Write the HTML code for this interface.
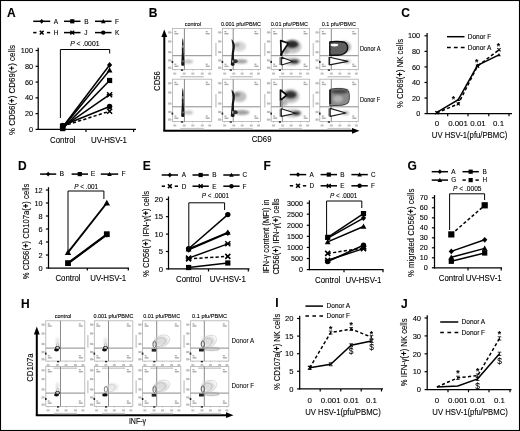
<!DOCTYPE html><html><head><meta charset="utf-8"><style>html,body{margin:0;padding:0;background:#fff;}svg{display:block;filter:blur(0.3px);}text{font-family:"Liberation Sans", sans-serif;stroke:#000;stroke-width:0.1px;}</style></head><body><svg width="520" height="431" viewBox="0 0 520 431"><defs><filter id="bl" x="-50%" y="-50%" width="200%" height="200%"><feGaussianBlur stdDeviation="0.6"/></filter><filter id="bl2" x="-50%" y="-50%" width="200%" height="200%"><feGaussianBlur stdDeviation="1.2"/></filter></defs><rect width="520" height="431" fill="#fff"/><rect x="0.5" y="0.5" width="519" height="430" fill="none" stroke="#000" stroke-width="1.1"/><text x="7" y="16.8" font-size="12" font-weight="bold" fill="#000">A</text><line x1="33.2" y1="21.3" x2="50.2" y2="21.3" stroke="#000" stroke-width="1.5"/><polygon points="41.7,18.9 43.86,21.3 41.7,23.7 39.54,21.3" fill="#000"/><text x="53.7" y="23.6" font-size="6.5" fill="#000">A</text><line x1="64" y1="21.3" x2="80.5" y2="21.3" stroke="#000" stroke-width="1.5"/><rect x="70.15" y="19.2" width="4.2" height="4.2" fill="#000"/><text x="84.3" y="23.6" font-size="6.5" fill="#000">B</text><line x1="95" y1="21.3" x2="111.5" y2="21.3" stroke="#000" stroke-width="1.5"/><polygon points="103.25,19 105.55,23.14 100.95,23.14" fill="#000"/><text x="115" y="23.6" font-size="6.5" fill="#000">F</text><line x1="33.2" y1="32.6" x2="36.5" y2="32.6" stroke="#000" stroke-width="1.5"/><line x1="46.9" y1="32.6" x2="50.2" y2="32.6" stroke="#000" stroke-width="1.5"/><path d="M39.8,30.7L43.6,34.5M43.6,30.7L39.8,34.5" stroke="#000" stroke-width="1.6" fill="none"/><text x="53.7" y="34.9" font-size="6.5" fill="#000">H</text><line x1="64" y1="32.6" x2="80.5" y2="32.6" stroke="#000" stroke-width="1.5"/><path d="M70.35,30.7L74.15,34.5M74.15,30.7L70.35,34.5M69.95,32.6L74.55,32.6" stroke="#000" stroke-width="1.4" fill="none"/><text x="84.3" y="34.9" font-size="6.5" fill="#000">J</text><line x1="95" y1="32.6" x2="111.5" y2="32.6" stroke="#000" stroke-width="1.5"/><circle cx="103.25" cy="32.6" r="2.2" fill="#000"/><text x="115" y="34.9" font-size="6.5" fill="#000">K</text><line x1="38.2" y1="129.9" x2="38.2" y2="47.7" stroke="#000" stroke-width="1.25"/><line x1="35.6" y1="50.5" x2="38.2" y2="50.5" stroke="#000" stroke-width="1.2"/><text x="33" y="53.13" font-size="7.3" text-anchor="end" fill="#000">100</text><line x1="35.6" y1="66.28" x2="38.2" y2="66.28" stroke="#000" stroke-width="1.2"/><text x="33" y="68.91" font-size="7.3" text-anchor="end" fill="#000">80</text><line x1="35.6" y1="82.06" x2="38.2" y2="82.06" stroke="#000" stroke-width="1.2"/><text x="33" y="84.69" font-size="7.3" text-anchor="end" fill="#000">60</text><line x1="35.6" y1="97.84" x2="38.2" y2="97.84" stroke="#000" stroke-width="1.2"/><text x="33" y="100.47" font-size="7.3" text-anchor="end" fill="#000">40</text><line x1="35.6" y1="113.62" x2="38.2" y2="113.62" stroke="#000" stroke-width="1.2"/><text x="33" y="116.25" font-size="7.3" text-anchor="end" fill="#000">20</text><line x1="35.6" y1="129.4" x2="38.2" y2="129.4" stroke="#000" stroke-width="1.2"/><text x="33" y="132.03" font-size="7.3" text-anchor="end" fill="#000">0</text><line x1="37.6" y1="129.4" x2="136" y2="129.4" stroke="#000" stroke-width="1.25"/><line x1="86" y1="129.4" x2="86" y2="132" stroke="#000" stroke-width="1.2"/><line x1="133.6" y1="129.4" x2="133.6" y2="132" stroke="#000" stroke-width="1.2"/><text transform="translate(15.1,90.1) rotate(-90)" font-size="8.5" text-anchor="middle" textLength="90" lengthAdjust="spacingAndGlyphs">% CD56(<tspan font-weight="bold">+</tspan>)  CD69(<tspan font-weight="bold">+</tspan>) cells</text><text x="62.7" y="142.6" font-size="8.2" text-anchor="middle" textLength="25.2" lengthAdjust="spacingAndGlyphs" fill="#000">Control</text><text x="109" y="142.6" font-size="8.2" text-anchor="middle" textLength="36" lengthAdjust="spacingAndGlyphs" fill="#000">UV-HSV-1</text><path d="M60.4,118 V49.5 H109.7 V53.5" fill="none" stroke="#000" stroke-width="1"/><text x="84.8" y="46" font-size="6.8" text-anchor="middle"><tspan font-style="italic">P</tspan> &lt; .0001</text><polyline points="62.7,127.03 109.6,65.02" fill="none" stroke="#000" stroke-width="1.5"/><polyline points="62.7,127.82 109.6,70.22" fill="none" stroke="#000" stroke-width="1.5"/><polyline points="62.7,128.61 109.6,80.48" fill="none" stroke="#000" stroke-width="1.5"/><polyline points="62.7,127.03 109.6,94.68" fill="none" stroke="#000" stroke-width="1.5"/><polyline points="62.7,125.46 109.6,106.52" fill="none" stroke="#000" stroke-width="1.5"/><polyline points="62.7,126.24 109.6,111.25" fill="none" stroke="#000" stroke-width="1.5" stroke-dasharray="3.2,2.2"/><polygon points="62.7,124.13 65.31,127.03 62.7,129.93 60.09,127.03" fill="#000"/><polygon points="109.6,62.12 112.21,65.02 109.6,67.92 106.99,65.02" fill="#000"/><polygon points="62.7,124.92 65.6,130.14 59.8,130.14" fill="#000"/><polygon points="109.6,67.32 112.5,72.54 106.7,72.54" fill="#000"/><rect x="60.1" y="126.01" width="5.2" height="5.2" fill="#000"/><rect x="107" y="77.88" width="5.2" height="5.2" fill="#000"/><path d="M60.2,124.53L65.2,129.53M65.2,124.53L60.2,129.53M59.8,127.03L65.6,127.03" stroke="#000" stroke-width="1.4" fill="none"/><path d="M107.1,92.18L112.1,97.18M112.1,92.18L107.1,97.18M106.7,94.68L112.5,94.68" stroke="#000" stroke-width="1.4" fill="none"/><circle cx="62.7" cy="125.46" r="2.7" fill="#000"/><circle cx="109.6" cy="106.52" r="2.7" fill="#000"/><path d="M60.2,123.74L65.2,128.74M65.2,123.74L60.2,128.74" stroke="#000" stroke-width="1.6" fill="none"/><path d="M107.1,108.75L112.1,113.75M112.1,108.75L107.1,113.75" stroke="#000" stroke-width="1.6" fill="none"/><text x="401.3" y="16.8" font-size="12" font-weight="bold" fill="#000">C</text><line x1="427.1" y1="114.1" x2="427.1" y2="33" stroke="#000" stroke-width="1.25"/><line x1="424.5" y1="35.8" x2="427.1" y2="35.8" stroke="#000" stroke-width="1.2"/><text x="420.2" y="38.43" font-size="7.3" text-anchor="end" fill="#000">100</text><line x1="424.5" y1="51.36" x2="427.1" y2="51.36" stroke="#000" stroke-width="1.2"/><text x="420.2" y="53.99" font-size="7.3" text-anchor="end" fill="#000">80</text><line x1="424.5" y1="66.92" x2="427.1" y2="66.92" stroke="#000" stroke-width="1.2"/><text x="420.2" y="69.55" font-size="7.3" text-anchor="end" fill="#000">60</text><line x1="424.5" y1="82.48" x2="427.1" y2="82.48" stroke="#000" stroke-width="1.2"/><text x="420.2" y="85.11" font-size="7.3" text-anchor="end" fill="#000">40</text><line x1="424.5" y1="98.04" x2="427.1" y2="98.04" stroke="#000" stroke-width="1.2"/><text x="420.2" y="100.67" font-size="7.3" text-anchor="end" fill="#000">20</text><line x1="424.5" y1="113.6" x2="427.1" y2="113.6" stroke="#000" stroke-width="1.2"/><text x="420.2" y="116.23" font-size="7.3" text-anchor="end" fill="#000">0</text><line x1="426.5" y1="113.6" x2="512" y2="113.6" stroke="#000" stroke-width="1.25"/><line x1="447.7" y1="113.6" x2="447.7" y2="116.2" stroke="#000" stroke-width="1.2"/><line x1="468" y1="113.6" x2="468" y2="116.2" stroke="#000" stroke-width="1.2"/><line x1="488.8" y1="113.6" x2="488.8" y2="116.2" stroke="#000" stroke-width="1.2"/><line x1="509" y1="113.6" x2="509" y2="116.2" stroke="#000" stroke-width="1.2"/><text transform="translate(402.8,73.5) rotate(-90)" font-size="8.5" text-anchor="middle" textLength="69.2" lengthAdjust="spacingAndGlyphs">% CD69(<tspan font-weight="bold">+</tspan>) NK cells</text><text x="436.9" y="125.8" font-size="7.9" text-anchor="middle" fill="#000">0</text><text x="458" y="125.8" font-size="7.9" text-anchor="middle" fill="#000">0.001</text><text x="478" y="125.8" font-size="7.9" text-anchor="middle" fill="#000">0.01</text><text x="498.6" y="125.8" font-size="7.9" text-anchor="middle" fill="#000">0.1</text><text x="469.6" y="138.2" font-size="8.6" text-anchor="middle" textLength="75.5" lengthAdjust="spacingAndGlyphs" fill="#000">UV HSV-1(pfu/PBMC)</text><line x1="447" y1="36.7" x2="464.5" y2="36.7" stroke="#000" stroke-width="1.5"/><line x1="447" y1="47.4" x2="464.6" y2="47.4" stroke="#000" stroke-width="1.5" stroke-dasharray="3.8,3.1"/><text x="467.8" y="39" font-size="6.5" fill="#000">Donor F</text><text x="467.8" y="49.7" font-size="6.5" fill="#000">Donor A</text><polyline points="436.9,112.43 458.3,99.6 477.5,65.36 499,54.86" fill="none" stroke="#000" stroke-width="1.5"/><polyline points="436.9,112.82 458.3,103.88 477.5,66.14 499,49.8" fill="none" stroke="#000" stroke-width="1.5" stroke-dasharray="3.2,2.3"/><polygon points="436.9,110.63 438.7,113.87 435.1,113.87" fill="#000"/><polygon points="458.3,97.8 460.1,101.04 456.5,101.04" fill="#000"/><polygon points="477.5,63.56 479.3,66.8 475.7,66.8" fill="#000"/><polygon points="499,53.06 500.8,56.3 497.2,56.3" fill="#000"/><path d="M435.3,111.22L438.5,114.42M438.5,111.22L435.3,114.42" stroke="#000" stroke-width="1.1" fill="none"/><path d="M456.7,102.28L459.9,105.47M459.9,102.28L456.7,105.47" stroke="#000" stroke-width="1.1" fill="none"/><path d="M475.9,64.54L479.1,67.74M479.1,64.54L475.9,67.74" stroke="#000" stroke-width="1.1" fill="none"/><path d="M497.4,48.2L500.6,51.4M500.6,48.2L497.4,51.4" stroke="#000" stroke-width="1.1" fill="none"/><text x="453.5" y="101.6" font-size="8.5" text-anchor="middle" font-weight="bold" fill="#000">*</text><text x="476.7" y="64.6" font-size="8.5" text-anchor="middle" font-weight="bold" fill="#000">*</text><text x="498.5" y="49.1" font-size="8.5" text-anchor="middle" font-weight="bold" fill="#000">*</text><text x="18" y="169.8" font-size="12" font-weight="bold" fill="#000">D</text><line x1="40.1" y1="174.1" x2="56.2" y2="174.1" stroke="#000" stroke-width="1.5"/><polygon points="48.15,171.7 50.31,174.1 48.15,176.5 45.99,174.1" fill="#000"/><text x="59.6" y="176.4" font-size="6.8" fill="#000">B</text><line x1="71.6" y1="174.1" x2="88" y2="174.1" stroke="#000" stroke-width="1.5"/><rect x="77.7" y="172" width="4.2" height="4.2" fill="#000"/><text x="90.8" y="176.4" font-size="6.8" fill="#000">E</text><line x1="100.8" y1="174.1" x2="118.2" y2="174.1" stroke="#000" stroke-width="1.5"/><polygon points="109.5,171.8 111.8,175.94 107.2,175.94" fill="#000"/><text x="121.6" y="176.4" font-size="6.8" fill="#000">F</text><line x1="48.5" y1="268.5" x2="48.5" y2="187.2" stroke="#000" stroke-width="1.25"/><line x1="45.9" y1="190" x2="48.5" y2="190" stroke="#000" stroke-width="1.2"/><text x="42.7" y="192.66" font-size="7.4" text-anchor="end" fill="#000">12</text><line x1="45.9" y1="203" x2="48.5" y2="203" stroke="#000" stroke-width="1.2"/><text x="42.7" y="205.66" font-size="7.4" text-anchor="end" fill="#000">10</text><line x1="45.9" y1="216" x2="48.5" y2="216" stroke="#000" stroke-width="1.2"/><text x="42.7" y="218.66" font-size="7.4" text-anchor="end" fill="#000">8</text><line x1="45.9" y1="229" x2="48.5" y2="229" stroke="#000" stroke-width="1.2"/><text x="42.7" y="231.66" font-size="7.4" text-anchor="end" fill="#000">6</text><line x1="45.9" y1="242" x2="48.5" y2="242" stroke="#000" stroke-width="1.2"/><text x="42.7" y="244.66" font-size="7.4" text-anchor="end" fill="#000">4</text><line x1="45.9" y1="255" x2="48.5" y2="255" stroke="#000" stroke-width="1.2"/><text x="42.7" y="257.66" font-size="7.4" text-anchor="end" fill="#000">2</text><line x1="45.9" y1="268" x2="48.5" y2="268" stroke="#000" stroke-width="1.2"/><text x="42.7" y="270.66" font-size="7.4" text-anchor="end" fill="#000">0</text><line x1="47.9" y1="268" x2="129" y2="268" stroke="#000" stroke-width="1.25"/><line x1="87.3" y1="268" x2="87.3" y2="270.6" stroke="#000" stroke-width="1.2"/><line x1="128.3" y1="268" x2="128.3" y2="270.6" stroke="#000" stroke-width="1.2"/><text transform="translate(28.6,231.4) rotate(-90)" font-size="8.4" text-anchor="middle" textLength="95.6" lengthAdjust="spacingAndGlyphs">% CD56(<tspan font-weight="bold">+</tspan>) CD107a(<tspan font-weight="bold">+</tspan>) cells</text><text x="68" y="280.6" font-size="8.2" text-anchor="middle" textLength="25.2" lengthAdjust="spacingAndGlyphs" fill="#000">Control</text><text x="108.2" y="280.6" font-size="8.2" text-anchor="middle" textLength="36" lengthAdjust="spacingAndGlyphs" fill="#000">UV-HSV-1</text><path d="M68,250 V191 H103.9 V199" fill="none" stroke="#000" stroke-width="1"/><text x="86.2" y="188.6" font-size="6.4" text-anchor="middle"><tspan font-style="italic">P</tspan> &lt; .001</text><polyline points="68,263.45 106.8,234.85" fill="none" stroke="#000" stroke-width="1.9"/><polyline points="68,263.12 106.8,234.2" fill="none" stroke="#000" stroke-width="1.9"/><polyline points="68,252.4 106.8,203" fill="none" stroke="#000" stroke-width="1.9"/><polygon points="68,260.85 70.34,263.45 68,266.05 65.66,263.45" fill="#000"/><polygon points="106.8,232.25 109.14,234.85 106.8,237.45 104.46,234.85" fill="#000"/><rect x="65.1" y="260.23" width="5.8" height="5.8" fill="#000"/><rect x="103.9" y="231.3" width="5.8" height="5.8" fill="#000"/><polygon points="68,249.2 71.2,254.96 64.8,254.96" fill="#000"/><polygon points="106.8,199.8 110,205.56 103.6,205.56" fill="#000"/><text x="142.8" y="169.8" font-size="12" font-weight="bold" fill="#000">E</text><line x1="161.7" y1="175" x2="178" y2="175" stroke="#000" stroke-width="1.5"/><polygon points="169.85,172.6 172.01,175 169.85,177.4 167.69,175" fill="#000"/><text x="181.8" y="177.3" font-size="6.4" fill="#000">A</text><line x1="192.5" y1="175" x2="208.8" y2="175" stroke="#000" stroke-width="1.5"/><rect x="198.55" y="172.9" width="4.2" height="4.2" fill="#000"/><text x="212.2" y="177.3" font-size="6.4" fill="#000">B</text><line x1="223.3" y1="175" x2="239.6" y2="175" stroke="#000" stroke-width="1.5"/><polygon points="231.45,172.7 233.75,176.84 229.15,176.84" fill="#000"/><text x="242.5" y="177.3" font-size="6.4" fill="#000">C</text><line x1="161.7" y1="186.2" x2="165" y2="186.2" stroke="#000" stroke-width="1.5"/><line x1="174.7" y1="186.2" x2="178" y2="186.2" stroke="#000" stroke-width="1.5"/><path d="M167.95,184.3L171.75,188.1M171.75,184.3L167.95,188.1" stroke="#000" stroke-width="1.6" fill="none"/><text x="181.8" y="188.5" font-size="6.4" fill="#000">D</text><line x1="192.5" y1="186.2" x2="208.8" y2="186.2" stroke="#000" stroke-width="1.5"/><path d="M198.75,184.3L202.55,188.1M202.55,184.3L198.75,188.1M198.35,186.2L202.95,186.2" stroke="#000" stroke-width="1.4" fill="none"/><text x="212.2" y="188.5" font-size="6.4" fill="#000">E</text><line x1="223.3" y1="186.2" x2="239.6" y2="186.2" stroke="#000" stroke-width="1.5"/><circle cx="231.45" cy="186.2" r="2.2" fill="#000"/><text x="242.5" y="188.5" font-size="6.4" fill="#000">F</text><line x1="168.5" y1="269.4" x2="168.5" y2="196.5" stroke="#000" stroke-width="1.25"/><line x1="165.9" y1="199.3" x2="168.5" y2="199.3" stroke="#000" stroke-width="1.2"/><text x="163.1" y="202.07" font-size="7.7" text-anchor="end" fill="#000">20</text><line x1="165.9" y1="216.7" x2="168.5" y2="216.7" stroke="#000" stroke-width="1.2"/><text x="163.1" y="219.47" font-size="7.7" text-anchor="end" fill="#000">15</text><line x1="165.9" y1="234.1" x2="168.5" y2="234.1" stroke="#000" stroke-width="1.2"/><text x="163.1" y="236.87" font-size="7.7" text-anchor="end" fill="#000">10</text><line x1="165.9" y1="251.5" x2="168.5" y2="251.5" stroke="#000" stroke-width="1.2"/><text x="163.1" y="254.27" font-size="7.7" text-anchor="end" fill="#000">5</text><line x1="165.9" y1="268.9" x2="168.5" y2="268.9" stroke="#000" stroke-width="1.2"/><text x="163.1" y="271.67" font-size="7.7" text-anchor="end" fill="#000">0</text><line x1="167.9" y1="268.9" x2="249.5" y2="268.9" stroke="#000" stroke-width="1.25"/><line x1="208.5" y1="268.9" x2="208.5" y2="271.5" stroke="#000" stroke-width="1.2"/><line x1="248.3" y1="268.9" x2="248.3" y2="271.5" stroke="#000" stroke-width="1.2"/><text transform="translate(148.7,234) rotate(-90)" font-size="8.4" text-anchor="middle" textLength="86" lengthAdjust="spacingAndGlyphs">% CD56(<tspan font-weight="bold">+</tspan>) IFN-&#947;(<tspan font-weight="bold">+</tspan>) cells</text><text x="188.6" y="282.2" font-size="8.2" text-anchor="middle" textLength="25.2" lengthAdjust="spacingAndGlyphs" fill="#000">Control</text><text x="227.8" y="282.2" font-size="8.2" text-anchor="middle" textLength="36" lengthAdjust="spacingAndGlyphs" fill="#000">UV-HSV-1</text><path d="M188.8,246 V202.8 H224.6 V210" fill="none" stroke="#000" stroke-width="1"/><text x="215.4" y="198.1" font-size="6.7" text-anchor="middle" textLength="27.2" lengthAdjust="spacingAndGlyphs"><tspan font-style="italic">P</tspan> &lt; .0001</text><polyline points="188.6,249.76 227.8,233.06" fill="none" stroke="#000" stroke-width="1.5"/><polyline points="188.6,249.06 227.8,232.36" fill="none" stroke="#000" stroke-width="1.5"/><polyline points="188.6,248.72 227.8,214.61" fill="none" stroke="#000" stroke-width="1.5"/><polyline points="188.6,258.11 227.8,243.84" fill="none" stroke="#000" stroke-width="1.5"/><polyline points="188.6,258.81 227.8,256.37" fill="none" stroke="#000" stroke-width="1.5" stroke-dasharray="3.2,2.2"/><polyline points="188.6,267.51 227.8,262.98" fill="none" stroke="#000" stroke-width="1.5"/><polygon points="188.6,246.86 191.21,249.76 188.6,252.66 185.99,249.76" fill="#000"/><polygon points="227.8,230.16 230.41,233.06 227.8,235.96 225.19,233.06" fill="#000"/><polygon points="188.6,246.16 191.5,251.38 185.7,251.38" fill="#000"/><polygon points="227.8,229.46 230.7,234.68 224.9,234.68" fill="#000"/><circle cx="188.6" cy="248.72" r="2.7" fill="#000"/><circle cx="227.8" cy="214.61" r="2.7" fill="#000"/><path d="M186.1,255.61L191.1,260.61M191.1,255.61L186.1,260.61M185.7,258.11L191.5,258.11" stroke="#000" stroke-width="1.4" fill="none"/><path d="M225.3,241.34L230.3,246.34M230.3,241.34L225.3,246.34M224.9,243.84L230.7,243.84" stroke="#000" stroke-width="1.4" fill="none"/><path d="M186.1,256.31L191.1,261.31M191.1,256.31L186.1,261.31" stroke="#000" stroke-width="1.6" fill="none"/><path d="M225.3,253.87L230.3,258.87M230.3,253.87L225.3,258.87" stroke="#000" stroke-width="1.6" fill="none"/><rect x="186" y="264.91" width="5.2" height="5.2" fill="#000"/><rect x="225.2" y="260.38" width="5.2" height="5.2" fill="#000"/><text x="263.6" y="170.4" font-size="12" font-weight="bold" fill="#000">F</text><line x1="289.8" y1="174.6" x2="306.2" y2="174.6" stroke="#000" stroke-width="1.5"/><polygon points="298,172.2 300.16,174.6 298,177 295.84,174.6" fill="#000"/><text x="309.5" y="176.9" font-size="6.4" fill="#000">A</text><line x1="320.6" y1="174.6" x2="337" y2="174.6" stroke="#000" stroke-width="1.5"/><rect x="326.7" y="172.5" width="4.2" height="4.2" fill="#000"/><text x="340.3" y="176.9" font-size="6.4" fill="#000">B</text><line x1="351.4" y1="174.6" x2="367.8" y2="174.6" stroke="#000" stroke-width="1.5"/><polygon points="359.6,172.3 361.9,176.44 357.3,176.44" fill="#000"/><text x="371.1" y="176.9" font-size="6.4" fill="#000">C</text><line x1="289.8" y1="185.8" x2="293.1" y2="185.8" stroke="#000" stroke-width="1.5"/><line x1="302.9" y1="185.8" x2="306.2" y2="185.8" stroke="#000" stroke-width="1.5"/><path d="M296.1,183.9L299.9,187.7M299.9,183.9L296.1,187.7" stroke="#000" stroke-width="1.6" fill="none"/><text x="309.5" y="188.1" font-size="6.4" fill="#000">D</text><line x1="320.6" y1="185.8" x2="337" y2="185.8" stroke="#000" stroke-width="1.5"/><path d="M326.9,183.9L330.7,187.7M330.7,183.9L326.9,187.7M326.5,185.8L331.1,185.8" stroke="#000" stroke-width="1.4" fill="none"/><text x="340.3" y="188.1" font-size="6.4" fill="#000">E</text><line x1="351.4" y1="185.8" x2="367.8" y2="185.8" stroke="#000" stroke-width="1.5"/><circle cx="359.6" cy="185.8" r="2.2" fill="#000"/><text x="371.1" y="188.1" font-size="6.4" fill="#000">F</text><line x1="309.4" y1="270.1" x2="309.4" y2="200.32" stroke="#000" stroke-width="1.25"/><line x1="306.8" y1="203.12" x2="309.4" y2="203.12" stroke="#000" stroke-width="1.2"/><text x="302.9" y="205.68" font-size="7.1" text-anchor="end" fill="#000">3000</text><line x1="306.8" y1="214.2" x2="309.4" y2="214.2" stroke="#000" stroke-width="1.2"/><text x="302.9" y="216.76" font-size="7.1" text-anchor="end" fill="#000">2500</text><line x1="306.8" y1="225.28" x2="309.4" y2="225.28" stroke="#000" stroke-width="1.2"/><text x="302.9" y="227.84" font-size="7.1" text-anchor="end" fill="#000">2000</text><line x1="306.8" y1="236.36" x2="309.4" y2="236.36" stroke="#000" stroke-width="1.2"/><text x="302.9" y="238.92" font-size="7.1" text-anchor="end" fill="#000">1500</text><line x1="306.8" y1="247.44" x2="309.4" y2="247.44" stroke="#000" stroke-width="1.2"/><text x="302.9" y="250" font-size="7.1" text-anchor="end" fill="#000">1000</text><line x1="306.8" y1="258.52" x2="309.4" y2="258.52" stroke="#000" stroke-width="1.2"/><text x="302.9" y="261.08" font-size="7.1" text-anchor="end" fill="#000">500</text><line x1="306.8" y1="269.6" x2="309.4" y2="269.6" stroke="#000" stroke-width="1.2"/><text x="302.9" y="272.16" font-size="7.1" text-anchor="end" fill="#000">0</text><line x1="308.8" y1="269.6" x2="383.5" y2="269.6" stroke="#000" stroke-width="1.25"/><line x1="344" y1="269.6" x2="344" y2="272.2" stroke="#000" stroke-width="1.2"/><line x1="383" y1="269.6" x2="383" y2="272.2" stroke="#000" stroke-width="1.2"/><text transform="translate(268.8,236.4) rotate(-90)" font-size="8.2" text-anchor="middle" textLength="73.8" lengthAdjust="spacingAndGlyphs">IFN-&#947; content (MFI) in</text><text transform="translate(279.2,236.5) rotate(-90)" font-size="8.2" text-anchor="middle" textLength="76.2" lengthAdjust="spacingAndGlyphs">CD56(<tspan font-weight="bold">+</tspan>) IFN-&#947;(<tspan font-weight="bold">+</tspan>) cells</text><text x="327.7" y="283.2" font-size="8.2" text-anchor="middle" textLength="25.2" lengthAdjust="spacingAndGlyphs" fill="#000">Control</text><text x="363.5" y="283.2" font-size="8.2" text-anchor="middle" textLength="36" lengthAdjust="spacingAndGlyphs" fill="#000">UV-HSV-1</text><path d="M326.6,235 V201 H361.8 V208" fill="none" stroke="#000" stroke-width="1"/><text x="343.6" y="198.2" font-size="6.7" text-anchor="middle" textLength="27.4" lengthAdjust="spacingAndGlyphs"><tspan font-style="italic">P</tspan> &lt; .0001</text><polyline points="327.7,238.13 363.5,218.08" fill="none" stroke="#000" stroke-width="1.5"/><polyline points="327.7,237.36 363.5,213.6" fill="none" stroke="#000" stroke-width="1.5"/><polyline points="327.7,241.9 363.5,226.5" fill="none" stroke="#000" stroke-width="1.5"/><polyline points="327.7,261.51 363.5,245.22" fill="none" stroke="#000" stroke-width="1.5"/><polyline points="327.7,260.29 363.5,248.66" fill="none" stroke="#000" stroke-width="1.5"/><polyline points="327.7,253.42 363.5,248.1" fill="none" stroke="#000" stroke-width="1.5" stroke-dasharray="3.2,2.2"/><polygon points="327.7,235.23 330.31,238.13 327.7,241.03 325.09,238.13" fill="#000"/><polygon points="363.5,215.18 366.11,218.08 363.5,220.98 360.89,218.08" fill="#000"/><rect x="325.1" y="234.76" width="5.2" height="5.2" fill="#000"/><rect x="360.9" y="211" width="5.2" height="5.2" fill="#000"/><polygon points="327.7,239 330.6,244.22 324.8,244.22" fill="#000"/><polygon points="363.5,223.6 366.4,228.82 360.6,228.82" fill="#000"/><circle cx="327.7" cy="261.51" r="2.7" fill="#000"/><circle cx="363.5" cy="245.22" r="2.7" fill="#000"/><path d="M325.2,257.79L330.2,262.79M330.2,257.79L325.2,262.79M324.8,260.29L330.6,260.29" stroke="#000" stroke-width="1.4" fill="none"/><path d="M361,246.16L366,251.16M366,246.16L361,251.16M360.6,248.66L366.4,248.66" stroke="#000" stroke-width="1.4" fill="none"/><path d="M325.2,250.92L330.2,255.92M330.2,250.92L325.2,255.92" stroke="#000" stroke-width="1.6" fill="none"/><path d="M361,245.6L366,250.6M366,245.6L361,250.6" stroke="#000" stroke-width="1.6" fill="none"/><text x="407.6" y="170" font-size="12" font-weight="bold" fill="#000">G</text><line x1="431.7" y1="171.7" x2="448" y2="171.7" stroke="#000" stroke-width="1.5"/><polygon points="439.85,169.3 442.01,171.7 439.85,174.1 437.69,171.7" fill="#000"/><text x="451.3" y="174" font-size="6.4" fill="#000">A</text><line x1="462.5" y1="171.7" x2="478.8" y2="171.7" stroke="#000" stroke-width="1.5"/><rect x="468.55" y="169.6" width="4.2" height="4.2" fill="#000"/><text x="482.6" y="174" font-size="6.4" fill="#000">B</text><line x1="431.7" y1="180.1" x2="448" y2="180.1" stroke="#000" stroke-width="1.5"/><polygon points="439.85,177.8 442.15,181.94 437.55,181.94" fill="#000"/><text x="451.3" y="182.4" font-size="6.4" fill="#000">G</text><line x1="462.5" y1="180.1" x2="465.8" y2="180.1" stroke="#000" stroke-width="1.5"/><line x1="475.5" y1="180.1" x2="478.8" y2="180.1" stroke="#000" stroke-width="1.5"/><rect x="468.55" y="178" width="4.2" height="4.2" fill="#000"/><text x="482.6" y="182.4" font-size="6.4" fill="#000">H</text><line x1="434.5" y1="268.3" x2="434.5" y2="195" stroke="#000" stroke-width="1.25"/><line x1="431.9" y1="197.8" x2="434.5" y2="197.8" stroke="#000" stroke-width="1.2"/><text x="427.9" y="200.43" font-size="7.3" text-anchor="end" fill="#000">70</text><line x1="431.9" y1="207.8" x2="434.5" y2="207.8" stroke="#000" stroke-width="1.2"/><text x="427.9" y="210.43" font-size="7.3" text-anchor="end" fill="#000">60</text><line x1="431.9" y1="217.8" x2="434.5" y2="217.8" stroke="#000" stroke-width="1.2"/><text x="427.9" y="220.43" font-size="7.3" text-anchor="end" fill="#000">50</text><line x1="431.9" y1="227.8" x2="434.5" y2="227.8" stroke="#000" stroke-width="1.2"/><text x="427.9" y="230.43" font-size="7.3" text-anchor="end" fill="#000">40</text><line x1="431.9" y1="237.8" x2="434.5" y2="237.8" stroke="#000" stroke-width="1.2"/><text x="427.9" y="240.43" font-size="7.3" text-anchor="end" fill="#000">30</text><line x1="431.9" y1="247.8" x2="434.5" y2="247.8" stroke="#000" stroke-width="1.2"/><text x="427.9" y="250.43" font-size="7.3" text-anchor="end" fill="#000">20</text><line x1="431.9" y1="257.8" x2="434.5" y2="257.8" stroke="#000" stroke-width="1.2"/><text x="427.9" y="260.43" font-size="7.3" text-anchor="end" fill="#000">10</text><line x1="431.9" y1="267.8" x2="434.5" y2="267.8" stroke="#000" stroke-width="1.2"/><text x="427.9" y="270.43" font-size="7.3" text-anchor="end" fill="#000">0</text><line x1="433.9" y1="267.8" x2="502" y2="267.8" stroke="#000" stroke-width="1.25"/><line x1="468" y1="267.8" x2="468" y2="270.4" stroke="#000" stroke-width="1.2"/><line x1="501.2" y1="267.8" x2="501.2" y2="270.4" stroke="#000" stroke-width="1.2"/><text transform="translate(414,232.9) rotate(-90)" font-size="8.4" text-anchor="middle" textLength="88.4" lengthAdjust="spacingAndGlyphs">% migrated CD56(<tspan font-weight="bold">+</tspan>) cells</text><text x="451.4" y="281.3" font-size="8.2" text-anchor="middle" textLength="25.2" lengthAdjust="spacingAndGlyphs" fill="#000">Control</text><text x="483.7" y="281.3" font-size="8.2" text-anchor="middle" textLength="36" lengthAdjust="spacingAndGlyphs" fill="#000">UV-HSV-1</text><path d="M449.6,230 V193.8 H484.6 V200" fill="none" stroke="#000" stroke-width="1"/><text x="467.3" y="190.6" font-size="6.6" text-anchor="middle"><tspan font-style="italic">P</tspan> &lt; .0005</text><polyline points="451.3,234.4 484.7,205.3" fill="none" stroke="#000" stroke-width="1.5" stroke-dasharray="3.2,2.2"/><polyline points="451.3,251.4 484.7,239.8" fill="none" stroke="#000" stroke-width="1.5"/><polyline points="451.3,257.3 484.7,248.4" fill="none" stroke="#000" stroke-width="1.5"/><polyline points="451.3,261.3 484.7,253" fill="none" stroke="#000" stroke-width="1.5"/><rect x="448.2" y="231.3" width="6.2" height="6.2" fill="#000"/><rect x="481.6" y="202.2" width="6.2" height="6.2" fill="#000"/><polygon points="451.3,248.5 453.91,251.4 451.3,254.3 448.69,251.4" fill="#000"/><polygon points="484.7,236.9 487.31,239.8 484.7,242.7 482.09,239.8" fill="#000"/><polygon points="451.3,254.4 454.2,259.62 448.4,259.62" fill="#000"/><polygon points="484.7,245.5 487.6,250.72 481.8,250.72" fill="#000"/><rect x="448.7" y="258.7" width="5.2" height="5.2" fill="#000"/><rect x="482.1" y="250.4" width="5.2" height="5.2" fill="#000"/><text x="275.2" y="307.4" font-size="12" font-weight="bold" fill="#000">I</text><line x1="299.7" y1="389.4" x2="299.7" y2="315.7" stroke="#000" stroke-width="1.25"/><line x1="297.1" y1="318.5" x2="299.7" y2="318.5" stroke="#000" stroke-width="1.2"/><text x="293.4" y="321.24" font-size="7.6" text-anchor="end" fill="#000">20</text><line x1="297.1" y1="336.1" x2="299.7" y2="336.1" stroke="#000" stroke-width="1.2"/><text x="293.4" y="338.84" font-size="7.6" text-anchor="end" fill="#000">15</text><line x1="297.1" y1="353.7" x2="299.7" y2="353.7" stroke="#000" stroke-width="1.2"/><text x="293.4" y="356.44" font-size="7.6" text-anchor="end" fill="#000">10</text><line x1="297.1" y1="371.3" x2="299.7" y2="371.3" stroke="#000" stroke-width="1.2"/><text x="293.4" y="374.04" font-size="7.6" text-anchor="end" fill="#000">5</text><line x1="297.1" y1="388.9" x2="299.7" y2="388.9" stroke="#000" stroke-width="1.2"/><text x="293.4" y="391.64" font-size="7.6" text-anchor="end" fill="#000">0</text><line x1="299.1" y1="388.9" x2="383" y2="388.9" stroke="#000" stroke-width="1.25"/><line x1="320.2" y1="388.9" x2="320.2" y2="391.5" stroke="#000" stroke-width="1.2"/><line x1="340.8" y1="388.9" x2="340.8" y2="391.5" stroke="#000" stroke-width="1.2"/><line x1="361.2" y1="388.9" x2="361.2" y2="391.5" stroke="#000" stroke-width="1.2"/><line x1="381.5" y1="388.9" x2="381.5" y2="391.5" stroke="#000" stroke-width="1.2"/><text transform="translate(280,351.9) rotate(-90)" font-size="8.4" text-anchor="middle" textLength="76.4" lengthAdjust="spacingAndGlyphs">% CD107a(<tspan font-weight="bold">+</tspan>) NK cells</text><text x="309.7" y="403.4" font-size="7.9" text-anchor="middle" fill="#000">0</text><text x="330.7" y="403.4" font-size="7.9" text-anchor="middle" fill="#000">0.001</text><text x="351.2" y="403.4" font-size="7.9" text-anchor="middle" fill="#000">0.01</text><text x="371.5" y="403.4" font-size="7.9" text-anchor="middle" fill="#000">0.1</text><text x="343" y="415.2" font-size="8.6" text-anchor="middle" textLength="75.5" lengthAdjust="spacingAndGlyphs" fill="#000">UV HSV-1(pfu/PBMC)</text><line x1="305.4" y1="306.1" x2="323" y2="306.1" stroke="#000" stroke-width="1.5"/><line x1="305.4" y1="316.1" x2="323" y2="316.1" stroke="#000" stroke-width="1.5" stroke-dasharray="3.6,3.4"/><text x="326.6" y="308.4" font-size="6.5" fill="#000">Donor A</text><text x="326.6" y="318.4" font-size="6.5" fill="#000">Donor F</text><polyline points="309.7,367.78 330.7,364.26 351.2,345.25 371.5,341.03" fill="none" stroke="#000" stroke-width="1.5"/><polyline points="309.7,367.78 330.7,332.58 351.2,329.06 371.5,337.16" fill="none" stroke="#000" stroke-width="1.5" stroke-dasharray="3.2,2.3"/><path d="M308.3,366.38L311.1,369.18M311.1,366.38L308.3,369.18" stroke="#000" stroke-width="1.0" fill="none"/><line x1="307.9" y1="366.28" x2="311.5" y2="366.28" stroke="#000" stroke-width="0.8"/><line x1="307.9" y1="369.28" x2="311.5" y2="369.28" stroke="#000" stroke-width="0.8"/><path d="M329.3,362.86L332.1,365.66M332.1,362.86L329.3,365.66" stroke="#000" stroke-width="1.0" fill="none"/><line x1="328.9" y1="362.76" x2="332.5" y2="362.76" stroke="#000" stroke-width="0.8"/><line x1="328.9" y1="365.76" x2="332.5" y2="365.76" stroke="#000" stroke-width="0.8"/><path d="M349.8,343.85L352.6,346.65M352.6,343.85L349.8,346.65" stroke="#000" stroke-width="1.0" fill="none"/><line x1="349.4" y1="343.75" x2="353" y2="343.75" stroke="#000" stroke-width="0.8"/><line x1="349.4" y1="346.75" x2="353" y2="346.75" stroke="#000" stroke-width="0.8"/><path d="M370.1,339.63L372.9,342.43M372.9,339.63L370.1,342.43" stroke="#000" stroke-width="1.0" fill="none"/><line x1="369.7" y1="339.53" x2="373.3" y2="339.53" stroke="#000" stroke-width="0.8"/><line x1="369.7" y1="342.53" x2="373.3" y2="342.53" stroke="#000" stroke-width="0.8"/><line x1="307.9" y1="366.28" x2="311.5" y2="366.28" stroke="#000" stroke-width="0.8"/><line x1="307.9" y1="369.28" x2="311.5" y2="369.28" stroke="#000" stroke-width="0.8"/><line x1="309.7" y1="366.28" x2="309.7" y2="369.28" stroke="#000" stroke-width="0.8"/><line x1="328.9" y1="331.08" x2="332.5" y2="331.08" stroke="#000" stroke-width="0.8"/><line x1="328.9" y1="334.08" x2="332.5" y2="334.08" stroke="#000" stroke-width="0.8"/><line x1="330.7" y1="331.08" x2="330.7" y2="334.08" stroke="#000" stroke-width="0.8"/><line x1="349.4" y1="327.56" x2="353" y2="327.56" stroke="#000" stroke-width="0.8"/><line x1="349.4" y1="330.56" x2="353" y2="330.56" stroke="#000" stroke-width="0.8"/><line x1="351.2" y1="327.56" x2="351.2" y2="330.56" stroke="#000" stroke-width="0.8"/><line x1="369.7" y1="335.66" x2="373.3" y2="335.66" stroke="#000" stroke-width="0.8"/><line x1="369.7" y1="338.66" x2="373.3" y2="338.66" stroke="#000" stroke-width="0.8"/><line x1="371.5" y1="335.66" x2="371.5" y2="338.66" stroke="#000" stroke-width="0.8"/><text x="330.7" y="331.5" font-size="8.5" text-anchor="middle" font-weight="bold" fill="#000">*</text><text x="351.2" y="328.1" font-size="8.5" text-anchor="middle" font-weight="bold" fill="#000">*</text><text x="371.5" y="336.5" font-size="8.5" text-anchor="middle" font-weight="bold" fill="#000">*</text><text x="351.2" y="354.1" font-size="8.4" text-anchor="middle" fill="#000">$</text><text x="371.5" y="349.9" font-size="8.4" text-anchor="middle" fill="#000">$</text><text x="401" y="308.2" font-size="12" font-weight="bold" fill="#000">J</text><line x1="427.2" y1="390.1" x2="427.2" y2="315.2" stroke="#000" stroke-width="1.25"/><line x1="424.6" y1="318" x2="427.2" y2="318" stroke="#000" stroke-width="1.2"/><text x="421.1" y="320.74" font-size="7.6" text-anchor="end" fill="#000">40</text><line x1="424.6" y1="335.9" x2="427.2" y2="335.9" stroke="#000" stroke-width="1.2"/><text x="421.1" y="338.64" font-size="7.6" text-anchor="end" fill="#000">30</text><line x1="424.6" y1="353.8" x2="427.2" y2="353.8" stroke="#000" stroke-width="1.2"/><text x="421.1" y="356.54" font-size="7.6" text-anchor="end" fill="#000">20</text><line x1="424.6" y1="371.7" x2="427.2" y2="371.7" stroke="#000" stroke-width="1.2"/><text x="421.1" y="374.44" font-size="7.6" text-anchor="end" fill="#000">10</text><line x1="424.6" y1="389.6" x2="427.2" y2="389.6" stroke="#000" stroke-width="1.2"/><text x="421.1" y="392.34" font-size="7.6" text-anchor="end" fill="#000">0</text><line x1="426.6" y1="389.6" x2="511.5" y2="389.6" stroke="#000" stroke-width="1.25"/><line x1="448" y1="389.6" x2="448" y2="392.2" stroke="#000" stroke-width="1.2"/><line x1="468.5" y1="389.6" x2="468.5" y2="392.2" stroke="#000" stroke-width="1.2"/><line x1="489" y1="389.6" x2="489" y2="392.2" stroke="#000" stroke-width="1.2"/><line x1="510" y1="389.6" x2="510" y2="392.2" stroke="#000" stroke-width="1.2"/><text transform="translate(407,352.3) rotate(-90)" font-size="8.4" text-anchor="middle" textLength="67.8" lengthAdjust="spacingAndGlyphs">% IFN-&#947;(<tspan font-weight="bold">+</tspan>) NK cells</text><text x="436.9" y="403.4" font-size="7.9" text-anchor="middle" fill="#000">0</text><text x="457.9" y="403.4" font-size="7.9" text-anchor="middle" fill="#000">0.001</text><text x="477.8" y="403.4" font-size="7.9" text-anchor="middle" fill="#000">0.01</text><text x="499.5" y="403.4" font-size="7.9" text-anchor="middle" fill="#000">0.1</text><text x="470.1" y="414.9" font-size="8.6" text-anchor="middle" textLength="75.5" lengthAdjust="spacingAndGlyphs" fill="#000">UV HSV-1(pfu/PBMC)</text><line x1="440.2" y1="322" x2="458.3" y2="322" stroke="#000" stroke-width="1.5"/><line x1="440.2" y1="332.4" x2="458.3" y2="332.4" stroke="#000" stroke-width="1.5" stroke-dasharray="3.7,3.5"/><text x="461.6" y="324.3" font-size="6.5" fill="#000">Donor A</text><text x="461.6" y="334.7" font-size="6.5" fill="#000">Donor F</text><polyline points="436.9,386.92 457.9,386.02 477.6,378.86 499.5,353.8" fill="none" stroke="#000" stroke-width="1.5"/><polyline points="436.9,386.92 457.9,377.79 477.6,375.64 499.5,338.41" fill="none" stroke="#000" stroke-width="1.5" stroke-dasharray="3.2,2.3"/><line x1="475.8" y1="377.26" x2="479.4" y2="377.26" stroke="#000" stroke-width="0.8"/><line x1="475.8" y1="380.46" x2="479.4" y2="380.46" stroke="#000" stroke-width="0.8"/><line x1="477.6" y1="377.26" x2="477.6" y2="380.46" stroke="#000" stroke-width="0.8"/><line x1="497.7" y1="352.2" x2="501.3" y2="352.2" stroke="#000" stroke-width="0.8"/><line x1="497.7" y1="355.4" x2="501.3" y2="355.4" stroke="#000" stroke-width="0.8"/><line x1="499.5" y1="352.2" x2="499.5" y2="355.4" stroke="#000" stroke-width="0.8"/><line x1="456.1" y1="376.19" x2="459.7" y2="376.19" stroke="#000" stroke-width="0.8"/><line x1="456.1" y1="379.39" x2="459.7" y2="379.39" stroke="#000" stroke-width="0.8"/><line x1="457.9" y1="376.19" x2="457.9" y2="379.39" stroke="#000" stroke-width="0.8"/><line x1="475.8" y1="374.04" x2="479.4" y2="374.04" stroke="#000" stroke-width="0.8"/><line x1="475.8" y1="377.24" x2="479.4" y2="377.24" stroke="#000" stroke-width="0.8"/><line x1="477.6" y1="374.04" x2="477.6" y2="377.24" stroke="#000" stroke-width="0.8"/><line x1="497.7" y1="336.81" x2="501.3" y2="336.81" stroke="#000" stroke-width="0.8"/><line x1="497.7" y1="340.01" x2="501.3" y2="340.01" stroke="#000" stroke-width="0.8"/><line x1="499.5" y1="336.81" x2="499.5" y2="340.01" stroke="#000" stroke-width="0.8"/><text x="457.9" y="376.4" font-size="8.5" text-anchor="middle" font-weight="bold" fill="#000">*</text><text x="477.6" y="373.6" font-size="8.5" text-anchor="middle" font-weight="bold" fill="#000">*</text><text x="499.5" y="336.5" font-size="8.5" text-anchor="middle" font-weight="bold" fill="#000">*</text><text x="477.6" y="388.7" font-size="8.4" text-anchor="middle" fill="#000">$</text><text x="499.5" y="364" font-size="8.4" text-anchor="middle" fill="#000">$</text><text x="148.8" y="16.7" font-size="12" font-weight="bold" fill="#000">B</text><path d="M164.3,130.8 V35.5" stroke="#000" stroke-width="2"/><polygon points="164.3,29.5 161.4,37 167.2,37" fill="#000"/><path d="M163.3,130.8 H353" stroke="#000" stroke-width="2"/><polygon points="359.5,130.8 352,127.9 352,133.7" fill="#000"/><text transform="translate(159.6,81.1) rotate(-90)" font-size="8.4" text-anchor="middle" textLength="19.6" lengthAdjust="spacingAndGlyphs">CD56</text><text x="251.7" y="141.8" font-size="8.8" textLength="19.8" lengthAdjust="spacingAndGlyphs" fill="#000">CD69</text><text x="192.9" y="25.9" font-size="6.2" text-anchor="middle" textLength="16.4" lengthAdjust="spacingAndGlyphs" fill="#000">control</text><text x="241" y="25.9" font-size="6.2" text-anchor="middle" textLength="40" lengthAdjust="spacingAndGlyphs" fill="#000">0.001 pfu/PBMC</text><text x="289.4" y="25.9" font-size="6.2" text-anchor="middle" textLength="37.2" lengthAdjust="spacingAndGlyphs" fill="#000">0.01 pfu/PBMC</text><text x="338.8" y="25.8" font-size="6.2" text-anchor="middle" textLength="34.3" lengthAdjust="spacingAndGlyphs" fill="#000">0.1 pfu/PBMC</text><text x="360" y="51.3" font-size="6.5" textLength="20.6" lengthAdjust="spacingAndGlyphs" fill="#000">Donor A</text><text x="360" y="102" font-size="6.5" textLength="20.2" lengthAdjust="spacingAndGlyphs" fill="#000">Donor F</text><rect x="172.4" y="28.5" width="39.3" height="41.1" fill="none" stroke="#b0b0b0" stroke-width="0.8"/><line x1="184.4" y1="28.5" x2="184.4" y2="69.6" stroke="#8a8a8a" stroke-width="1.0"/><line x1="172.4" y1="55.7" x2="211.7" y2="55.7" stroke="#8a8a8a" stroke-width="1.0"/><line x1="171.2" y1="32.61" x2="172.4" y2="32.61" stroke="#999" stroke-width="0.5"/><rect x="168.1" y="31.31" width="3" height="2.2" fill="#bdbdbd"/><line x1="171.2" y1="41.65" x2="172.4" y2="41.65" stroke="#999" stroke-width="0.5"/><rect x="168.1" y="40.35" width="3" height="2.2" fill="#bdbdbd"/><line x1="171.2" y1="52.34" x2="172.4" y2="52.34" stroke="#999" stroke-width="0.5"/><rect x="168.1" y="51.04" width="3" height="2.2" fill="#bdbdbd"/><line x1="171.2" y1="60.56" x2="172.4" y2="60.56" stroke="#999" stroke-width="0.5"/><rect x="168.1" y="59.26" width="3" height="2.2" fill="#bdbdbd"/><line x1="171.2" y1="67.96" x2="172.4" y2="67.96" stroke="#999" stroke-width="0.5"/><rect x="168.1" y="66.66" width="3" height="2.2" fill="#bdbdbd"/><line x1="174.76" y1="69.6" x2="174.76" y2="70.8" stroke="#999" stroke-width="0.5"/><rect x="173.26" y="72.6" width="3" height="2" fill="#c0c0c0"/><line x1="184.19" y1="69.6" x2="184.19" y2="70.8" stroke="#999" stroke-width="0.5"/><rect x="182.69" y="72.6" width="3" height="2" fill="#c0c0c0"/><line x1="192.84" y1="69.6" x2="192.84" y2="70.8" stroke="#999" stroke-width="0.5"/><rect x="191.34" y="72.6" width="3" height="2" fill="#c0c0c0"/><line x1="202.27" y1="69.6" x2="202.27" y2="70.8" stroke="#999" stroke-width="0.5"/><rect x="200.77" y="72.6" width="3" height="2" fill="#c0c0c0"/><line x1="209.73" y1="69.6" x2="209.73" y2="70.8" stroke="#999" stroke-width="0.5"/><rect x="208.23" y="72.6" width="3" height="2" fill="#c0c0c0"/><rect x="171.6" y="60.97" width="1.6" height="2" fill="#222"/><rect x="180.9" y="69.4" width="2.2" height="1.4" fill="#222"/><rect x="180.26" y="76" width="23.58" height="1.4" fill="#c8c8c8"/><rect x="174.4" y="31" width="2" height="1.3" fill="#aaa"/><rect x="174.4" y="33" width="4" height="1.4" fill="#aaa"/><rect x="205.7" y="31" width="2" height="1.3" fill="#aaa"/><rect x="205.7" y="33" width="4" height="1.4" fill="#aaa"/><rect x="174.4" y="63.6" width="2" height="1.3" fill="#aaa"/><rect x="174.4" y="65.6" width="4" height="1.4" fill="#aaa"/><rect x="205.7" y="63.6" width="2" height="1.3" fill="#aaa"/><rect x="205.7" y="65.6" width="4" height="1.4" fill="#aaa"/><rect x="222.4" y="28.5" width="38" height="41.1" fill="none" stroke="#b0b0b0" stroke-width="0.8"/><line x1="233.2" y1="28.5" x2="233.2" y2="69.6" stroke="#8a8a8a" stroke-width="1.0"/><line x1="222.4" y1="55.7" x2="260.4" y2="55.7" stroke="#8a8a8a" stroke-width="1.0"/><line x1="221.2" y1="32.61" x2="222.4" y2="32.61" stroke="#999" stroke-width="0.5"/><rect x="218.1" y="31.31" width="3" height="2.2" fill="#bdbdbd"/><line x1="221.2" y1="41.65" x2="222.4" y2="41.65" stroke="#999" stroke-width="0.5"/><rect x="218.1" y="40.35" width="3" height="2.2" fill="#bdbdbd"/><line x1="221.2" y1="52.34" x2="222.4" y2="52.34" stroke="#999" stroke-width="0.5"/><rect x="218.1" y="51.04" width="3" height="2.2" fill="#bdbdbd"/><line x1="221.2" y1="60.56" x2="222.4" y2="60.56" stroke="#999" stroke-width="0.5"/><rect x="218.1" y="59.26" width="3" height="2.2" fill="#bdbdbd"/><line x1="221.2" y1="67.96" x2="222.4" y2="67.96" stroke="#999" stroke-width="0.5"/><rect x="218.1" y="66.66" width="3" height="2.2" fill="#bdbdbd"/><line x1="224.68" y1="69.6" x2="224.68" y2="70.8" stroke="#999" stroke-width="0.5"/><rect x="223.18" y="72.6" width="3" height="2" fill="#c0c0c0"/><line x1="233.8" y1="69.6" x2="233.8" y2="70.8" stroke="#999" stroke-width="0.5"/><rect x="232.3" y="72.6" width="3" height="2" fill="#c0c0c0"/><line x1="242.16" y1="69.6" x2="242.16" y2="70.8" stroke="#999" stroke-width="0.5"/><rect x="240.66" y="72.6" width="3" height="2" fill="#c0c0c0"/><line x1="251.28" y1="69.6" x2="251.28" y2="70.8" stroke="#999" stroke-width="0.5"/><rect x="249.78" y="72.6" width="3" height="2" fill="#c0c0c0"/><line x1="258.5" y1="69.6" x2="258.5" y2="70.8" stroke="#999" stroke-width="0.5"/><rect x="257" y="72.6" width="3" height="2" fill="#c0c0c0"/><rect x="215.2" y="42.88" width="1.5" height="13.15" fill="#cdcdcd"/><rect x="221.6" y="60.97" width="1.6" height="2" fill="#222"/><rect x="229.7" y="69.4" width="2.2" height="1.4" fill="#222"/><rect x="230" y="76" width="22.8" height="1.4" fill="#c8c8c8"/><rect x="224.4" y="31" width="2" height="1.3" fill="#aaa"/><rect x="224.4" y="33" width="4" height="1.4" fill="#aaa"/><rect x="254.4" y="31" width="2" height="1.3" fill="#aaa"/><rect x="254.4" y="33" width="4" height="1.4" fill="#aaa"/><rect x="224.4" y="63.6" width="2" height="1.3" fill="#aaa"/><rect x="224.4" y="65.6" width="4" height="1.4" fill="#aaa"/><rect x="254.4" y="63.6" width="2" height="1.3" fill="#aaa"/><rect x="254.4" y="65.6" width="4" height="1.4" fill="#aaa"/><rect x="271.2" y="28.5" width="38.4" height="41.1" fill="none" stroke="#b0b0b0" stroke-width="0.8"/><line x1="282.3" y1="28.5" x2="282.3" y2="69.6" stroke="#8a8a8a" stroke-width="1.0"/><line x1="271.2" y1="55.7" x2="309.6" y2="55.7" stroke="#8a8a8a" stroke-width="1.0"/><line x1="270" y1="32.61" x2="271.2" y2="32.61" stroke="#999" stroke-width="0.5"/><rect x="266.9" y="31.31" width="3" height="2.2" fill="#bdbdbd"/><line x1="270" y1="41.65" x2="271.2" y2="41.65" stroke="#999" stroke-width="0.5"/><rect x="266.9" y="40.35" width="3" height="2.2" fill="#bdbdbd"/><line x1="270" y1="52.34" x2="271.2" y2="52.34" stroke="#999" stroke-width="0.5"/><rect x="266.9" y="51.04" width="3" height="2.2" fill="#bdbdbd"/><line x1="270" y1="60.56" x2="271.2" y2="60.56" stroke="#999" stroke-width="0.5"/><rect x="266.9" y="59.26" width="3" height="2.2" fill="#bdbdbd"/><line x1="270" y1="67.96" x2="271.2" y2="67.96" stroke="#999" stroke-width="0.5"/><rect x="266.9" y="66.66" width="3" height="2.2" fill="#bdbdbd"/><line x1="273.5" y1="69.6" x2="273.5" y2="70.8" stroke="#999" stroke-width="0.5"/><rect x="272" y="72.6" width="3" height="2" fill="#c0c0c0"/><line x1="282.72" y1="69.6" x2="282.72" y2="70.8" stroke="#999" stroke-width="0.5"/><rect x="281.22" y="72.6" width="3" height="2" fill="#c0c0c0"/><line x1="291.17" y1="69.6" x2="291.17" y2="70.8" stroke="#999" stroke-width="0.5"/><rect x="289.67" y="72.6" width="3" height="2" fill="#c0c0c0"/><line x1="300.38" y1="69.6" x2="300.38" y2="70.8" stroke="#999" stroke-width="0.5"/><rect x="298.88" y="72.6" width="3" height="2" fill="#c0c0c0"/><line x1="307.68" y1="69.6" x2="307.68" y2="70.8" stroke="#999" stroke-width="0.5"/><rect x="306.18" y="72.6" width="3" height="2" fill="#c0c0c0"/><rect x="264" y="42.88" width="1.5" height="13.15" fill="#cdcdcd"/><rect x="270.4" y="60.97" width="1.6" height="2" fill="#222"/><rect x="278.8" y="69.4" width="2.2" height="1.4" fill="#222"/><rect x="278.88" y="76" width="23.04" height="1.4" fill="#c8c8c8"/><rect x="273.2" y="31" width="2" height="1.3" fill="#aaa"/><rect x="273.2" y="33" width="4" height="1.4" fill="#aaa"/><rect x="303.6" y="31" width="2" height="1.3" fill="#aaa"/><rect x="303.6" y="33" width="4" height="1.4" fill="#aaa"/><rect x="273.2" y="63.6" width="2" height="1.3" fill="#aaa"/><rect x="273.2" y="65.6" width="4" height="1.4" fill="#aaa"/><rect x="303.6" y="63.6" width="2" height="1.3" fill="#aaa"/><rect x="303.6" y="65.6" width="4" height="1.4" fill="#aaa"/><rect x="319.8" y="28.5" width="38.5" height="41.1" fill="none" stroke="#b0b0b0" stroke-width="0.8"/><line x1="331.3" y1="28.5" x2="331.3" y2="69.6" stroke="#8a8a8a" stroke-width="1.0"/><line x1="319.8" y1="55.7" x2="358.3" y2="55.7" stroke="#8a8a8a" stroke-width="1.0"/><line x1="318.6" y1="32.61" x2="319.8" y2="32.61" stroke="#999" stroke-width="0.5"/><rect x="315.5" y="31.31" width="3" height="2.2" fill="#bdbdbd"/><line x1="318.6" y1="41.65" x2="319.8" y2="41.65" stroke="#999" stroke-width="0.5"/><rect x="315.5" y="40.35" width="3" height="2.2" fill="#bdbdbd"/><line x1="318.6" y1="52.34" x2="319.8" y2="52.34" stroke="#999" stroke-width="0.5"/><rect x="315.5" y="51.04" width="3" height="2.2" fill="#bdbdbd"/><line x1="318.6" y1="60.56" x2="319.8" y2="60.56" stroke="#999" stroke-width="0.5"/><rect x="315.5" y="59.26" width="3" height="2.2" fill="#bdbdbd"/><line x1="318.6" y1="67.96" x2="319.8" y2="67.96" stroke="#999" stroke-width="0.5"/><rect x="315.5" y="66.66" width="3" height="2.2" fill="#bdbdbd"/><line x1="322.11" y1="69.6" x2="322.11" y2="70.8" stroke="#999" stroke-width="0.5"/><rect x="320.61" y="72.6" width="3" height="2" fill="#c0c0c0"/><line x1="331.35" y1="69.6" x2="331.35" y2="70.8" stroke="#999" stroke-width="0.5"/><rect x="329.85" y="72.6" width="3" height="2" fill="#c0c0c0"/><line x1="339.82" y1="69.6" x2="339.82" y2="70.8" stroke="#999" stroke-width="0.5"/><rect x="338.32" y="72.6" width="3" height="2" fill="#c0c0c0"/><line x1="349.06" y1="69.6" x2="349.06" y2="70.8" stroke="#999" stroke-width="0.5"/><rect x="347.56" y="72.6" width="3" height="2" fill="#c0c0c0"/><line x1="356.38" y1="69.6" x2="356.38" y2="70.8" stroke="#999" stroke-width="0.5"/><rect x="354.88" y="72.6" width="3" height="2" fill="#c0c0c0"/><rect x="312.6" y="42.88" width="1.5" height="13.15" fill="#cdcdcd"/><rect x="319" y="60.97" width="1.6" height="2" fill="#222"/><rect x="327.8" y="69.4" width="2.2" height="1.4" fill="#222"/><rect x="327.5" y="76" width="23.1" height="1.4" fill="#c8c8c8"/><rect x="321.8" y="31" width="2" height="1.3" fill="#aaa"/><rect x="321.8" y="33" width="4" height="1.4" fill="#aaa"/><rect x="352.3" y="31" width="2" height="1.3" fill="#aaa"/><rect x="352.3" y="33" width="4" height="1.4" fill="#aaa"/><rect x="321.8" y="63.6" width="2" height="1.3" fill="#aaa"/><rect x="321.8" y="65.6" width="4" height="1.4" fill="#aaa"/><rect x="352.3" y="63.6" width="2" height="1.3" fill="#aaa"/><rect x="352.3" y="65.6" width="4" height="1.4" fill="#aaa"/><rect x="172.4" y="79.2" width="39.3" height="42.3" fill="none" stroke="#b0b0b0" stroke-width="0.8"/><line x1="184.4" y1="79.2" x2="184.4" y2="121.5" stroke="#8a8a8a" stroke-width="1.0"/><line x1="172.4" y1="106.8" x2="211.7" y2="106.8" stroke="#8a8a8a" stroke-width="1.0"/><line x1="171.2" y1="83.43" x2="172.4" y2="83.43" stroke="#999" stroke-width="0.5"/><rect x="168.1" y="82.13" width="3" height="2.2" fill="#bdbdbd"/><line x1="171.2" y1="92.74" x2="172.4" y2="92.74" stroke="#999" stroke-width="0.5"/><rect x="168.1" y="91.44" width="3" height="2.2" fill="#bdbdbd"/><line x1="171.2" y1="103.73" x2="172.4" y2="103.73" stroke="#999" stroke-width="0.5"/><rect x="168.1" y="102.43" width="3" height="2.2" fill="#bdbdbd"/><line x1="171.2" y1="112.19" x2="172.4" y2="112.19" stroke="#999" stroke-width="0.5"/><rect x="168.1" y="110.89" width="3" height="2.2" fill="#bdbdbd"/><line x1="171.2" y1="119.81" x2="172.4" y2="119.81" stroke="#999" stroke-width="0.5"/><rect x="168.1" y="118.51" width="3" height="2.2" fill="#bdbdbd"/><line x1="174.76" y1="121.5" x2="174.76" y2="122.7" stroke="#999" stroke-width="0.5"/><rect x="173.26" y="124.5" width="3" height="2" fill="#c0c0c0"/><line x1="184.19" y1="121.5" x2="184.19" y2="122.7" stroke="#999" stroke-width="0.5"/><rect x="182.69" y="124.5" width="3" height="2" fill="#c0c0c0"/><line x1="192.84" y1="121.5" x2="192.84" y2="122.7" stroke="#999" stroke-width="0.5"/><rect x="191.34" y="124.5" width="3" height="2" fill="#c0c0c0"/><line x1="202.27" y1="121.5" x2="202.27" y2="122.7" stroke="#999" stroke-width="0.5"/><rect x="200.77" y="124.5" width="3" height="2" fill="#c0c0c0"/><line x1="209.73" y1="121.5" x2="209.73" y2="122.7" stroke="#999" stroke-width="0.5"/><rect x="208.23" y="124.5" width="3" height="2" fill="#c0c0c0"/><rect x="171.6" y="112.62" width="1.6" height="2" fill="#222"/><rect x="180.9" y="121.3" width="2.2" height="1.4" fill="#222"/><rect x="180.26" y="127.9" width="23.58" height="1.4" fill="#c8c8c8"/><rect x="174.4" y="81.7" width="2" height="1.3" fill="#aaa"/><rect x="174.4" y="83.7" width="4" height="1.4" fill="#aaa"/><rect x="205.7" y="81.7" width="2" height="1.3" fill="#aaa"/><rect x="205.7" y="83.7" width="4" height="1.4" fill="#aaa"/><rect x="174.4" y="115.5" width="2" height="1.3" fill="#aaa"/><rect x="174.4" y="117.5" width="4" height="1.4" fill="#aaa"/><rect x="205.7" y="115.5" width="2" height="1.3" fill="#aaa"/><rect x="205.7" y="117.5" width="4" height="1.4" fill="#aaa"/><rect x="222.4" y="79.2" width="38" height="42.3" fill="none" stroke="#b0b0b0" stroke-width="0.8"/><line x1="233.2" y1="79.2" x2="233.2" y2="121.5" stroke="#8a8a8a" stroke-width="1.0"/><line x1="222.4" y1="106.8" x2="260.4" y2="106.8" stroke="#8a8a8a" stroke-width="1.0"/><line x1="221.2" y1="83.43" x2="222.4" y2="83.43" stroke="#999" stroke-width="0.5"/><rect x="218.1" y="82.13" width="3" height="2.2" fill="#bdbdbd"/><line x1="221.2" y1="92.74" x2="222.4" y2="92.74" stroke="#999" stroke-width="0.5"/><rect x="218.1" y="91.44" width="3" height="2.2" fill="#bdbdbd"/><line x1="221.2" y1="103.73" x2="222.4" y2="103.73" stroke="#999" stroke-width="0.5"/><rect x="218.1" y="102.43" width="3" height="2.2" fill="#bdbdbd"/><line x1="221.2" y1="112.19" x2="222.4" y2="112.19" stroke="#999" stroke-width="0.5"/><rect x="218.1" y="110.89" width="3" height="2.2" fill="#bdbdbd"/><line x1="221.2" y1="119.81" x2="222.4" y2="119.81" stroke="#999" stroke-width="0.5"/><rect x="218.1" y="118.51" width="3" height="2.2" fill="#bdbdbd"/><line x1="224.68" y1="121.5" x2="224.68" y2="122.7" stroke="#999" stroke-width="0.5"/><rect x="223.18" y="124.5" width="3" height="2" fill="#c0c0c0"/><line x1="233.8" y1="121.5" x2="233.8" y2="122.7" stroke="#999" stroke-width="0.5"/><rect x="232.3" y="124.5" width="3" height="2" fill="#c0c0c0"/><line x1="242.16" y1="121.5" x2="242.16" y2="122.7" stroke="#999" stroke-width="0.5"/><rect x="240.66" y="124.5" width="3" height="2" fill="#c0c0c0"/><line x1="251.28" y1="121.5" x2="251.28" y2="122.7" stroke="#999" stroke-width="0.5"/><rect x="249.78" y="124.5" width="3" height="2" fill="#c0c0c0"/><line x1="258.5" y1="121.5" x2="258.5" y2="122.7" stroke="#999" stroke-width="0.5"/><rect x="257" y="124.5" width="3" height="2" fill="#c0c0c0"/><rect x="215.2" y="94" width="1.5" height="13.54" fill="#cdcdcd"/><rect x="221.6" y="112.62" width="1.6" height="2" fill="#222"/><rect x="229.7" y="121.3" width="2.2" height="1.4" fill="#222"/><rect x="230" y="127.9" width="22.8" height="1.4" fill="#c8c8c8"/><rect x="224.4" y="81.7" width="2" height="1.3" fill="#aaa"/><rect x="224.4" y="83.7" width="4" height="1.4" fill="#aaa"/><rect x="254.4" y="81.7" width="2" height="1.3" fill="#aaa"/><rect x="254.4" y="83.7" width="4" height="1.4" fill="#aaa"/><rect x="224.4" y="115.5" width="2" height="1.3" fill="#aaa"/><rect x="224.4" y="117.5" width="4" height="1.4" fill="#aaa"/><rect x="254.4" y="115.5" width="2" height="1.3" fill="#aaa"/><rect x="254.4" y="117.5" width="4" height="1.4" fill="#aaa"/><rect x="271.2" y="79.2" width="38.4" height="42.3" fill="none" stroke="#b0b0b0" stroke-width="0.8"/><line x1="282.3" y1="79.2" x2="282.3" y2="121.5" stroke="#8a8a8a" stroke-width="1.0"/><line x1="271.2" y1="106.8" x2="309.6" y2="106.8" stroke="#8a8a8a" stroke-width="1.0"/><line x1="270" y1="83.43" x2="271.2" y2="83.43" stroke="#999" stroke-width="0.5"/><rect x="266.9" y="82.13" width="3" height="2.2" fill="#bdbdbd"/><line x1="270" y1="92.74" x2="271.2" y2="92.74" stroke="#999" stroke-width="0.5"/><rect x="266.9" y="91.44" width="3" height="2.2" fill="#bdbdbd"/><line x1="270" y1="103.73" x2="271.2" y2="103.73" stroke="#999" stroke-width="0.5"/><rect x="266.9" y="102.43" width="3" height="2.2" fill="#bdbdbd"/><line x1="270" y1="112.19" x2="271.2" y2="112.19" stroke="#999" stroke-width="0.5"/><rect x="266.9" y="110.89" width="3" height="2.2" fill="#bdbdbd"/><line x1="270" y1="119.81" x2="271.2" y2="119.81" stroke="#999" stroke-width="0.5"/><rect x="266.9" y="118.51" width="3" height="2.2" fill="#bdbdbd"/><line x1="273.5" y1="121.5" x2="273.5" y2="122.7" stroke="#999" stroke-width="0.5"/><rect x="272" y="124.5" width="3" height="2" fill="#c0c0c0"/><line x1="282.72" y1="121.5" x2="282.72" y2="122.7" stroke="#999" stroke-width="0.5"/><rect x="281.22" y="124.5" width="3" height="2" fill="#c0c0c0"/><line x1="291.17" y1="121.5" x2="291.17" y2="122.7" stroke="#999" stroke-width="0.5"/><rect x="289.67" y="124.5" width="3" height="2" fill="#c0c0c0"/><line x1="300.38" y1="121.5" x2="300.38" y2="122.7" stroke="#999" stroke-width="0.5"/><rect x="298.88" y="124.5" width="3" height="2" fill="#c0c0c0"/><line x1="307.68" y1="121.5" x2="307.68" y2="122.7" stroke="#999" stroke-width="0.5"/><rect x="306.18" y="124.5" width="3" height="2" fill="#c0c0c0"/><rect x="264" y="94" width="1.5" height="13.54" fill="#cdcdcd"/><rect x="270.4" y="112.62" width="1.6" height="2" fill="#222"/><rect x="278.8" y="121.3" width="2.2" height="1.4" fill="#222"/><rect x="278.88" y="127.9" width="23.04" height="1.4" fill="#c8c8c8"/><rect x="273.2" y="81.7" width="2" height="1.3" fill="#aaa"/><rect x="273.2" y="83.7" width="4" height="1.4" fill="#aaa"/><rect x="303.6" y="81.7" width="2" height="1.3" fill="#aaa"/><rect x="303.6" y="83.7" width="4" height="1.4" fill="#aaa"/><rect x="273.2" y="115.5" width="2" height="1.3" fill="#aaa"/><rect x="273.2" y="117.5" width="4" height="1.4" fill="#aaa"/><rect x="303.6" y="115.5" width="2" height="1.3" fill="#aaa"/><rect x="303.6" y="117.5" width="4" height="1.4" fill="#aaa"/><rect x="319.8" y="79.2" width="38.5" height="42.3" fill="none" stroke="#b0b0b0" stroke-width="0.8"/><line x1="331.3" y1="79.2" x2="331.3" y2="121.5" stroke="#8a8a8a" stroke-width="1.0"/><line x1="319.8" y1="106.8" x2="358.3" y2="106.8" stroke="#8a8a8a" stroke-width="1.0"/><line x1="318.6" y1="83.43" x2="319.8" y2="83.43" stroke="#999" stroke-width="0.5"/><rect x="315.5" y="82.13" width="3" height="2.2" fill="#bdbdbd"/><line x1="318.6" y1="92.74" x2="319.8" y2="92.74" stroke="#999" stroke-width="0.5"/><rect x="315.5" y="91.44" width="3" height="2.2" fill="#bdbdbd"/><line x1="318.6" y1="103.73" x2="319.8" y2="103.73" stroke="#999" stroke-width="0.5"/><rect x="315.5" y="102.43" width="3" height="2.2" fill="#bdbdbd"/><line x1="318.6" y1="112.19" x2="319.8" y2="112.19" stroke="#999" stroke-width="0.5"/><rect x="315.5" y="110.89" width="3" height="2.2" fill="#bdbdbd"/><line x1="318.6" y1="119.81" x2="319.8" y2="119.81" stroke="#999" stroke-width="0.5"/><rect x="315.5" y="118.51" width="3" height="2.2" fill="#bdbdbd"/><line x1="322.11" y1="121.5" x2="322.11" y2="122.7" stroke="#999" stroke-width="0.5"/><rect x="320.61" y="124.5" width="3" height="2" fill="#c0c0c0"/><line x1="331.35" y1="121.5" x2="331.35" y2="122.7" stroke="#999" stroke-width="0.5"/><rect x="329.85" y="124.5" width="3" height="2" fill="#c0c0c0"/><line x1="339.82" y1="121.5" x2="339.82" y2="122.7" stroke="#999" stroke-width="0.5"/><rect x="338.32" y="124.5" width="3" height="2" fill="#c0c0c0"/><line x1="349.06" y1="121.5" x2="349.06" y2="122.7" stroke="#999" stroke-width="0.5"/><rect x="347.56" y="124.5" width="3" height="2" fill="#c0c0c0"/><line x1="356.38" y1="121.5" x2="356.38" y2="122.7" stroke="#999" stroke-width="0.5"/><rect x="354.88" y="124.5" width="3" height="2" fill="#c0c0c0"/><rect x="312.6" y="94" width="1.5" height="13.54" fill="#cdcdcd"/><rect x="319" y="112.62" width="1.6" height="2" fill="#222"/><rect x="327.8" y="121.3" width="2.2" height="1.4" fill="#222"/><rect x="327.5" y="127.9" width="23.1" height="1.4" fill="#c8c8c8"/><rect x="321.8" y="81.7" width="2" height="1.3" fill="#aaa"/><rect x="321.8" y="83.7" width="4" height="1.4" fill="#aaa"/><rect x="352.3" y="81.7" width="2" height="1.3" fill="#aaa"/><rect x="352.3" y="83.7" width="4" height="1.4" fill="#aaa"/><rect x="321.8" y="115.5" width="2" height="1.3" fill="#aaa"/><rect x="321.8" y="117.5" width="4" height="1.4" fill="#aaa"/><rect x="352.3" y="115.5" width="2" height="1.3" fill="#aaa"/><rect x="352.3" y="117.5" width="4" height="1.4" fill="#aaa"/><ellipse cx="188.5" cy="61.5" rx="4.5" ry="2" fill="#aaa" opacity="0.7" filter="url(#bl2)"/><path d="M182.8,38 C183.7,41 183.7,48.15 183.7,52.15 L184.4,64.3 C184.4,66.3 181.2,66.3 181.2,64.3 L181.9,52.15 C181.9,48.15 181.9,41 182.8,38 Z" fill="#151515" filter="url(#bl)"/><ellipse cx="182.9" cy="46.5" rx="0.5" ry="1.8" fill="#fff" opacity="0.75" filter="url(#bl)"/><ellipse cx="183" cy="61.3" rx="0.6" ry="1.2" fill="#fff" opacity="0.5" filter="url(#bl)"/><ellipse cx="239.5" cy="46.5" rx="6.5" ry="5" fill="#bbb" opacity="0.6" filter="url(#bl2)"/><ellipse cx="237" cy="44.8" rx="2.5" ry="1.6" fill="#777" opacity="0.6" filter="url(#bl2)"/><ellipse cx="241" cy="61.4" rx="6.5" ry="2.2" fill="#888" opacity="0.8" filter="url(#bl2)"/><path d="M231.6,39 C233.2,41 235,43 234.9,46 C234.8,50 233.8,52 233.9,56 L234.6,64.8 C234,66.3 231.5,66.3 230.8,64.8 L231.6,56 C231.7,52 232.6,49 232.5,46 C232.4,43 231.4,41 231.6,39 Z" fill="#151515" filter="url(#bl)"/><ellipse cx="235.2" cy="61.2" rx="2.6" ry="2" fill="#333" opacity="1.0" filter="url(#bl)"/><ellipse cx="232.7" cy="61.3" rx="0.7" ry="1.6" fill="#fff" opacity="0.6" filter="url(#bl)"/><ellipse cx="292.5" cy="46.5" rx="9" ry="7" fill="#aaa" opacity="0.7" filter="url(#bl2)"/><ellipse cx="292" cy="44.4" rx="6.5" ry="3.8" fill="#222" opacity="0.95" filter="url(#bl2)"/><ellipse cx="285.5" cy="50.5" rx="3.5" ry="4" fill="#888" opacity="0.7" filter="url(#bl2)"/><polygon points="280.7,40.6 288.3,43.3 281.2,54.3" fill="#fff" stroke="#111" stroke-width="1.7" stroke-linejoin="round" opacity="1.0" filter="url(#bl)"/><ellipse cx="281.2" cy="54.8" rx="1.2" ry="1.2" fill="#000" opacity="1.0" filter="url(#bl)"/><ellipse cx="292" cy="61.4" rx="9" ry="4" fill="#aaa" opacity="0.75" filter="url(#bl2)"/><ellipse cx="294.5" cy="61.6" rx="4" ry="1.8" fill="#222" opacity="0.95" filter="url(#bl2)"/><rect x="279.4" y="57" width="2.4" height="8" fill="#777" filter="url(#bl)"/><polygon points="281.6,57.2 292.8,61.4 281.6,64.9" fill="#fff" stroke="#1a1a1a" stroke-width="1.1" stroke-linejoin="round" opacity="1.0" filter="url(#bl)"/><ellipse cx="344" cy="47" rx="7" ry="6" fill="#888" opacity="0.7" filter="url(#bl2)"/><path d="M329.8,55.3 L329.8,42 C333,41.2 341,41.3 344.7,42.3 C347.5,43.5 348.2,48 347.2,50.3 C346,53 343,55 338,55.3 Z" fill="#5e5e5e" stroke="#111" stroke-width="1.4" filter="url(#bl)"/><ellipse cx="334.4" cy="45.1" rx="3.9" ry="1.35" fill="#fff" opacity="1.0" filter="url(#bl)"/><rect x="328.2" y="57" width="3" height="8" fill="#777" filter="url(#bl)"/><ellipse cx="347" cy="61.5" rx="3.5" ry="2" fill="#999" opacity="0.7" filter="url(#bl2)"/><polygon points="329.6,57.2 347.8,61.4 329.6,64.9" fill="#fff" stroke="#1a1a1a" stroke-width="1.1" stroke-linejoin="round" opacity="1.0" filter="url(#bl)"/><ellipse cx="188.5" cy="112.6" rx="4.5" ry="2" fill="#aaa" opacity="0.7" filter="url(#bl2)"/><path d="M182.8,87.9 C183.7,90.9 183.7,98.65 183.7,102.65 L184.4,115.4 C184.4,117.4 181.2,117.4 181.2,115.4 L181.9,102.65 C181.9,98.65 181.9,90.9 182.8,87.9 Z" fill="#151515" filter="url(#bl)"/><ellipse cx="182.9" cy="97.6" rx="0.5" ry="1.8" fill="#fff" opacity="0.75" filter="url(#bl)"/><ellipse cx="183" cy="112.4" rx="0.6" ry="1.2" fill="#fff" opacity="0.5" filter="url(#bl)"/><ellipse cx="239.5" cy="96.5" rx="7" ry="5.5" fill="#a5a5a5" opacity="0.7" filter="url(#bl2)"/><ellipse cx="237" cy="94.5" rx="3" ry="2" fill="#666" opacity="0.7" filter="url(#bl2)"/><ellipse cx="242" cy="112.5" rx="7.5" ry="2.4" fill="#888" opacity="0.8" filter="url(#bl2)"/><path d="M231.6,89.5 C233.2,91.5 235,93.5 234.9,96.5 C234.8,100.5 233.8,102.5 233.9,106.5 L234.6,115.9 C234,117.4 231.5,117.4 230.8,115.9 L231.6,106.5 C231.7,102.5 232.6,99.5 232.5,96.5 C232.4,93.5 231.4,91.5 231.6,89.5 Z" fill="#151515" filter="url(#bl)"/><ellipse cx="235.2" cy="112.3" rx="2.6" ry="2" fill="#333" opacity="1.0" filter="url(#bl)"/><ellipse cx="232.7" cy="112.4" rx="0.7" ry="1.6" fill="#fff" opacity="0.6" filter="url(#bl)"/><ellipse cx="290.5" cy="96" rx="9" ry="7" fill="#aaa" opacity="0.75" filter="url(#bl2)"/><ellipse cx="290.5" cy="94.8" rx="6" ry="3.8" fill="#2a2a2a" opacity="0.95" filter="url(#bl2)"/><ellipse cx="284" cy="103" rx="3.5" ry="3" fill="#999" opacity="0.7" filter="url(#bl2)"/><polygon points="280.5,90 286.7,95 280.5,100.3" fill="#fff" stroke="#111" stroke-width="1.7" stroke-linejoin="round" opacity="1.0" filter="url(#bl)"/><rect x="279.8" y="100" width="1.6" height="7" fill="#555" filter="url(#bl)"/><ellipse cx="293" cy="113.2" rx="9" ry="4" fill="#aaa" opacity="0.75" filter="url(#bl2)"/><ellipse cx="296.5" cy="113.3" rx="3.5" ry="1.7" fill="#222" opacity="0.95" filter="url(#bl2)"/><rect x="279.6" y="108.6" width="2.4" height="8" fill="#777" filter="url(#bl)"/><polygon points="281.3,108.7 295.7,113.3 281.3,116.4" fill="#fff" stroke="#1a1a1a" stroke-width="1.1" stroke-linejoin="round" opacity="1.0" filter="url(#bl)"/><path d="M329.8,106 L329.8,89.5 C334,88 343,88.2 347,89.5 C350,91 350,100 348,103 C345,105.5 340,105.5 334,105.5 Z" fill="#8a8a8a" stroke="#333" stroke-width="0.9" filter="url(#bl)"/><ellipse cx="339.5" cy="91.5" rx="9" ry="2.2" fill="#333" opacity="0.8" filter="url(#bl2)"/><ellipse cx="338" cy="99" rx="5" ry="3.5" fill="#bdbdbd" opacity="0.8" filter="url(#bl2)"/><rect x="329.2" y="90" width="2" height="14" fill="#222" filter="url(#bl)"/><rect x="328.4" y="108.4" width="3" height="8" fill="#777" filter="url(#bl)"/><ellipse cx="345.5" cy="113" rx="3.5" ry="2" fill="#999" opacity="0.7" filter="url(#bl2)"/><polygon points="330.2,108.4 345.8,113 330.2,116.4" fill="#fff" stroke="#1a1a1a" stroke-width="1.1" stroke-linejoin="round" opacity="1.0" filter="url(#bl)"/><text x="21" y="308" font-size="12" font-weight="bold" fill="#000">H</text><path d="M36.8,415.2 V334" stroke="#000" stroke-width="2"/><polygon points="36.8,326.5 33.9,334.5 39.7,334.5" fill="#000"/><path d="M35.8,415.2 H226.5" stroke="#000" stroke-width="2"/><polygon points="233.5,415.2 226,412.3 226,418.1" fill="#000"/><text transform="translate(33.4,367.6) rotate(-90)" font-size="8.8" text-anchor="middle" textLength="28.2" lengthAdjust="spacingAndGlyphs">CD107a</text><text x="128.9" y="424" font-size="8.8" textLength="17.2" lengthAdjust="spacingAndGlyphs" fill="#000">INF-&#947;</text><text x="63" y="317.8" font-size="5.9" text-anchor="middle" textLength="16.7" lengthAdjust="spacingAndGlyphs" fill="#000">control</text><text x="113.4" y="317.8" font-size="5.9" text-anchor="middle" textLength="40" lengthAdjust="spacingAndGlyphs" fill="#000">0.001 pfu/PBMC</text><text x="161.7" y="317.5" font-size="5.9" text-anchor="middle" textLength="36.7" lengthAdjust="spacingAndGlyphs" fill="#000">0.01 pfu/PBMC</text><text x="209.5" y="317.5" font-size="5.9" text-anchor="middle" textLength="34.9" lengthAdjust="spacingAndGlyphs" fill="#000">0.1 pfu/PBMC</text><text x="231.4" y="342.6" font-size="6.3" fill="#000" style="stroke-width:0.05">Donor A</text><text x="231.4" y="387.6" font-size="6.3" fill="#000" style="stroke-width:0.05">Donor F</text><rect x="45.8" y="320.8" width="39" height="40.3" fill="none" stroke="#b0b0b0" stroke-width="0.8"/><line x1="60.5" y1="320.8" x2="60.5" y2="361.1" stroke="#8a8a8a" stroke-width="1.0"/><line x1="45.8" y1="348.1" x2="84.8" y2="348.1" stroke="#8a8a8a" stroke-width="1.0"/><line x1="44.6" y1="324.83" x2="45.8" y2="324.83" stroke="#999" stroke-width="0.5"/><rect x="41.5" y="323.53" width="3" height="2.2" fill="#bdbdbd"/><line x1="44.6" y1="333.7" x2="45.8" y2="333.7" stroke="#999" stroke-width="0.5"/><rect x="41.5" y="332.4" width="3" height="2.2" fill="#bdbdbd"/><line x1="44.6" y1="344.17" x2="45.8" y2="344.17" stroke="#999" stroke-width="0.5"/><rect x="41.5" y="342.87" width="3" height="2.2" fill="#bdbdbd"/><line x1="44.6" y1="352.23" x2="45.8" y2="352.23" stroke="#999" stroke-width="0.5"/><rect x="41.5" y="350.93" width="3" height="2.2" fill="#bdbdbd"/><line x1="44.6" y1="359.49" x2="45.8" y2="359.49" stroke="#999" stroke-width="0.5"/><rect x="41.5" y="358.19" width="3" height="2.2" fill="#bdbdbd"/><line x1="48.14" y1="361.1" x2="48.14" y2="362.3" stroke="#999" stroke-width="0.5"/><rect x="46.64" y="364.1" width="3" height="2" fill="#c0c0c0"/><line x1="57.5" y1="361.1" x2="57.5" y2="362.3" stroke="#999" stroke-width="0.5"/><rect x="56" y="364.1" width="3" height="2" fill="#c0c0c0"/><line x1="66.08" y1="361.1" x2="66.08" y2="362.3" stroke="#999" stroke-width="0.5"/><rect x="64.58" y="364.1" width="3" height="2" fill="#c0c0c0"/><line x1="75.44" y1="361.1" x2="75.44" y2="362.3" stroke="#999" stroke-width="0.5"/><rect x="73.94" y="364.1" width="3" height="2" fill="#c0c0c0"/><line x1="82.85" y1="361.1" x2="82.85" y2="362.3" stroke="#999" stroke-width="0.5"/><rect x="81.35" y="364.1" width="3" height="2" fill="#c0c0c0"/><rect x="45" y="352.64" width="1.6" height="2" fill="#222"/><rect x="57" y="360.9" width="2.2" height="1.4" fill="#222"/><rect x="53.6" y="367.5" width="23.4" height="1.4" fill="#c8c8c8"/><rect x="47.8" y="323.3" width="2" height="1.3" fill="#aaa"/><rect x="47.8" y="325.3" width="4" height="1.4" fill="#aaa"/><rect x="78.8" y="323.3" width="2" height="1.3" fill="#aaa"/><rect x="78.8" y="325.3" width="4" height="1.4" fill="#aaa"/><rect x="47.8" y="355.1" width="2" height="1.3" fill="#aaa"/><rect x="47.8" y="357.1" width="4" height="1.4" fill="#aaa"/><rect x="78.8" y="355.1" width="2" height="1.3" fill="#aaa"/><rect x="78.8" y="357.1" width="4" height="1.4" fill="#aaa"/><rect x="94.3" y="320.8" width="38.5" height="40.3" fill="none" stroke="#b0b0b0" stroke-width="0.8"/><line x1="108.5" y1="320.8" x2="108.5" y2="361.1" stroke="#8a8a8a" stroke-width="1.0"/><line x1="94.3" y1="348.1" x2="132.8" y2="348.1" stroke="#8a8a8a" stroke-width="1.0"/><line x1="93.1" y1="324.83" x2="94.3" y2="324.83" stroke="#999" stroke-width="0.5"/><rect x="90" y="323.53" width="3" height="2.2" fill="#bdbdbd"/><line x1="93.1" y1="333.7" x2="94.3" y2="333.7" stroke="#999" stroke-width="0.5"/><rect x="90" y="332.4" width="3" height="2.2" fill="#bdbdbd"/><line x1="93.1" y1="344.17" x2="94.3" y2="344.17" stroke="#999" stroke-width="0.5"/><rect x="90" y="342.87" width="3" height="2.2" fill="#bdbdbd"/><line x1="93.1" y1="352.23" x2="94.3" y2="352.23" stroke="#999" stroke-width="0.5"/><rect x="90" y="350.93" width="3" height="2.2" fill="#bdbdbd"/><line x1="93.1" y1="359.49" x2="94.3" y2="359.49" stroke="#999" stroke-width="0.5"/><rect x="90" y="358.19" width="3" height="2.2" fill="#bdbdbd"/><line x1="96.61" y1="361.1" x2="96.61" y2="362.3" stroke="#999" stroke-width="0.5"/><rect x="95.11" y="364.1" width="3" height="2" fill="#c0c0c0"/><line x1="105.85" y1="361.1" x2="105.85" y2="362.3" stroke="#999" stroke-width="0.5"/><rect x="104.35" y="364.1" width="3" height="2" fill="#c0c0c0"/><line x1="114.32" y1="361.1" x2="114.32" y2="362.3" stroke="#999" stroke-width="0.5"/><rect x="112.82" y="364.1" width="3" height="2" fill="#c0c0c0"/><line x1="123.56" y1="361.1" x2="123.56" y2="362.3" stroke="#999" stroke-width="0.5"/><rect x="122.06" y="364.1" width="3" height="2" fill="#c0c0c0"/><line x1="130.88" y1="361.1" x2="130.88" y2="362.3" stroke="#999" stroke-width="0.5"/><rect x="129.38" y="364.1" width="3" height="2" fill="#c0c0c0"/><rect x="87.1" y="334.91" width="1.5" height="12.9" fill="#cdcdcd"/><rect x="93.5" y="352.64" width="1.6" height="2" fill="#222"/><rect x="105" y="360.9" width="2.2" height="1.4" fill="#222"/><rect x="102" y="367.5" width="23.1" height="1.4" fill="#c8c8c8"/><rect x="96.3" y="323.3" width="2" height="1.3" fill="#aaa"/><rect x="96.3" y="325.3" width="4" height="1.4" fill="#aaa"/><rect x="126.8" y="323.3" width="2" height="1.3" fill="#aaa"/><rect x="126.8" y="325.3" width="4" height="1.4" fill="#aaa"/><rect x="96.3" y="355.1" width="2" height="1.3" fill="#aaa"/><rect x="96.3" y="357.1" width="4" height="1.4" fill="#aaa"/><rect x="126.8" y="355.1" width="2" height="1.3" fill="#aaa"/><rect x="126.8" y="357.1" width="4" height="1.4" fill="#aaa"/><rect x="142.6" y="320.8" width="38.2" height="40.3" fill="none" stroke="#b0b0b0" stroke-width="0.8"/><line x1="156.7" y1="320.8" x2="156.7" y2="361.1" stroke="#8a8a8a" stroke-width="1.0"/><line x1="142.6" y1="348.1" x2="180.8" y2="348.1" stroke="#8a8a8a" stroke-width="1.0"/><line x1="141.4" y1="324.83" x2="142.6" y2="324.83" stroke="#999" stroke-width="0.5"/><rect x="138.3" y="323.53" width="3" height="2.2" fill="#bdbdbd"/><line x1="141.4" y1="333.7" x2="142.6" y2="333.7" stroke="#999" stroke-width="0.5"/><rect x="138.3" y="332.4" width="3" height="2.2" fill="#bdbdbd"/><line x1="141.4" y1="344.17" x2="142.6" y2="344.17" stroke="#999" stroke-width="0.5"/><rect x="138.3" y="342.87" width="3" height="2.2" fill="#bdbdbd"/><line x1="141.4" y1="352.23" x2="142.6" y2="352.23" stroke="#999" stroke-width="0.5"/><rect x="138.3" y="350.93" width="3" height="2.2" fill="#bdbdbd"/><line x1="141.4" y1="359.49" x2="142.6" y2="359.49" stroke="#999" stroke-width="0.5"/><rect x="138.3" y="358.19" width="3" height="2.2" fill="#bdbdbd"/><line x1="144.89" y1="361.1" x2="144.89" y2="362.3" stroke="#999" stroke-width="0.5"/><rect x="143.39" y="364.1" width="3" height="2" fill="#c0c0c0"/><line x1="154.06" y1="361.1" x2="154.06" y2="362.3" stroke="#999" stroke-width="0.5"/><rect x="152.56" y="364.1" width="3" height="2" fill="#c0c0c0"/><line x1="162.46" y1="361.1" x2="162.46" y2="362.3" stroke="#999" stroke-width="0.5"/><rect x="160.96" y="364.1" width="3" height="2" fill="#c0c0c0"/><line x1="171.63" y1="361.1" x2="171.63" y2="362.3" stroke="#999" stroke-width="0.5"/><rect x="170.13" y="364.1" width="3" height="2" fill="#c0c0c0"/><line x1="178.89" y1="361.1" x2="178.89" y2="362.3" stroke="#999" stroke-width="0.5"/><rect x="177.39" y="364.1" width="3" height="2" fill="#c0c0c0"/><rect x="135.4" y="334.91" width="1.5" height="12.9" fill="#cdcdcd"/><rect x="141.8" y="352.64" width="1.6" height="2" fill="#222"/><rect x="153.2" y="360.9" width="2.2" height="1.4" fill="#222"/><rect x="150.24" y="367.5" width="22.92" height="1.4" fill="#c8c8c8"/><rect x="144.6" y="323.3" width="2" height="1.3" fill="#aaa"/><rect x="144.6" y="325.3" width="4" height="1.4" fill="#aaa"/><rect x="174.8" y="323.3" width="2" height="1.3" fill="#aaa"/><rect x="174.8" y="325.3" width="4" height="1.4" fill="#aaa"/><rect x="144.6" y="355.1" width="2" height="1.3" fill="#aaa"/><rect x="144.6" y="357.1" width="4" height="1.4" fill="#aaa"/><rect x="174.8" y="355.1" width="2" height="1.3" fill="#aaa"/><rect x="174.8" y="357.1" width="4" height="1.4" fill="#aaa"/><rect x="190.5" y="320.8" width="38.3" height="40.3" fill="none" stroke="#b0b0b0" stroke-width="0.8"/><line x1="204.3" y1="320.8" x2="204.3" y2="361.1" stroke="#8a8a8a" stroke-width="1.0"/><line x1="190.5" y1="348.1" x2="228.8" y2="348.1" stroke="#8a8a8a" stroke-width="1.0"/><line x1="189.3" y1="324.83" x2="190.5" y2="324.83" stroke="#999" stroke-width="0.5"/><rect x="186.2" y="323.53" width="3" height="2.2" fill="#bdbdbd"/><line x1="189.3" y1="333.7" x2="190.5" y2="333.7" stroke="#999" stroke-width="0.5"/><rect x="186.2" y="332.4" width="3" height="2.2" fill="#bdbdbd"/><line x1="189.3" y1="344.17" x2="190.5" y2="344.17" stroke="#999" stroke-width="0.5"/><rect x="186.2" y="342.87" width="3" height="2.2" fill="#bdbdbd"/><line x1="189.3" y1="352.23" x2="190.5" y2="352.23" stroke="#999" stroke-width="0.5"/><rect x="186.2" y="350.93" width="3" height="2.2" fill="#bdbdbd"/><line x1="189.3" y1="359.49" x2="190.5" y2="359.49" stroke="#999" stroke-width="0.5"/><rect x="186.2" y="358.19" width="3" height="2.2" fill="#bdbdbd"/><line x1="192.8" y1="361.1" x2="192.8" y2="362.3" stroke="#999" stroke-width="0.5"/><rect x="191.3" y="364.1" width="3" height="2" fill="#c0c0c0"/><line x1="201.99" y1="361.1" x2="201.99" y2="362.3" stroke="#999" stroke-width="0.5"/><rect x="200.49" y="364.1" width="3" height="2" fill="#c0c0c0"/><line x1="210.42" y1="361.1" x2="210.42" y2="362.3" stroke="#999" stroke-width="0.5"/><rect x="208.92" y="364.1" width="3" height="2" fill="#c0c0c0"/><line x1="219.61" y1="361.1" x2="219.61" y2="362.3" stroke="#999" stroke-width="0.5"/><rect x="218.11" y="364.1" width="3" height="2" fill="#c0c0c0"/><line x1="226.89" y1="361.1" x2="226.89" y2="362.3" stroke="#999" stroke-width="0.5"/><rect x="225.39" y="364.1" width="3" height="2" fill="#c0c0c0"/><rect x="183.3" y="334.91" width="1.5" height="12.9" fill="#cdcdcd"/><rect x="189.7" y="352.64" width="1.6" height="2" fill="#222"/><rect x="200.8" y="360.9" width="2.2" height="1.4" fill="#222"/><rect x="198.16" y="367.5" width="22.98" height="1.4" fill="#c8c8c8"/><rect x="192.5" y="323.3" width="2" height="1.3" fill="#aaa"/><rect x="192.5" y="325.3" width="4" height="1.4" fill="#aaa"/><rect x="222.8" y="323.3" width="2" height="1.3" fill="#aaa"/><rect x="222.8" y="325.3" width="4" height="1.4" fill="#aaa"/><rect x="192.5" y="355.1" width="2" height="1.3" fill="#aaa"/><rect x="192.5" y="357.1" width="4" height="1.4" fill="#aaa"/><rect x="222.8" y="355.1" width="2" height="1.3" fill="#aaa"/><rect x="222.8" y="357.1" width="4" height="1.4" fill="#aaa"/><rect x="45.8" y="366.5" width="39" height="39.9" fill="none" stroke="#b0b0b0" stroke-width="0.8"/><line x1="60.5" y1="366.5" x2="60.5" y2="406.4" stroke="#8a8a8a" stroke-width="1.0"/><line x1="45.8" y1="393.1" x2="84.8" y2="393.1" stroke="#8a8a8a" stroke-width="1.0"/><line x1="44.6" y1="370.49" x2="45.8" y2="370.49" stroke="#999" stroke-width="0.5"/><rect x="41.5" y="369.19" width="3" height="2.2" fill="#bdbdbd"/><line x1="44.6" y1="379.27" x2="45.8" y2="379.27" stroke="#999" stroke-width="0.5"/><rect x="41.5" y="377.97" width="3" height="2.2" fill="#bdbdbd"/><line x1="44.6" y1="389.64" x2="45.8" y2="389.64" stroke="#999" stroke-width="0.5"/><rect x="41.5" y="388.34" width="3" height="2.2" fill="#bdbdbd"/><line x1="44.6" y1="397.62" x2="45.8" y2="397.62" stroke="#999" stroke-width="0.5"/><rect x="41.5" y="396.32" width="3" height="2.2" fill="#bdbdbd"/><line x1="44.6" y1="404.8" x2="45.8" y2="404.8" stroke="#999" stroke-width="0.5"/><rect x="41.5" y="403.5" width="3" height="2.2" fill="#bdbdbd"/><line x1="48.14" y1="406.4" x2="48.14" y2="407.6" stroke="#999" stroke-width="0.5"/><rect x="46.64" y="409.4" width="3" height="2" fill="#c0c0c0"/><line x1="57.5" y1="406.4" x2="57.5" y2="407.6" stroke="#999" stroke-width="0.5"/><rect x="56" y="409.4" width="3" height="2" fill="#c0c0c0"/><line x1="66.08" y1="406.4" x2="66.08" y2="407.6" stroke="#999" stroke-width="0.5"/><rect x="64.58" y="409.4" width="3" height="2" fill="#c0c0c0"/><line x1="75.44" y1="406.4" x2="75.44" y2="407.6" stroke="#999" stroke-width="0.5"/><rect x="73.94" y="409.4" width="3" height="2" fill="#c0c0c0"/><line x1="82.85" y1="406.4" x2="82.85" y2="407.6" stroke="#999" stroke-width="0.5"/><rect x="81.35" y="409.4" width="3" height="2" fill="#c0c0c0"/><rect x="45" y="398.02" width="1.6" height="2" fill="#222"/><rect x="57" y="406.2" width="2.2" height="1.4" fill="#222"/><rect x="53.6" y="412.8" width="23.4" height="1.4" fill="#c8c8c8"/><rect x="47.8" y="369" width="2" height="1.3" fill="#aaa"/><rect x="47.8" y="371" width="4" height="1.4" fill="#aaa"/><rect x="78.8" y="369" width="2" height="1.3" fill="#aaa"/><rect x="78.8" y="371" width="4" height="1.4" fill="#aaa"/><rect x="47.8" y="400.4" width="2" height="1.3" fill="#aaa"/><rect x="47.8" y="402.4" width="4" height="1.4" fill="#aaa"/><rect x="78.8" y="400.4" width="2" height="1.3" fill="#aaa"/><rect x="78.8" y="402.4" width="4" height="1.4" fill="#aaa"/><rect x="94.3" y="366.5" width="38.5" height="39.9" fill="none" stroke="#b0b0b0" stroke-width="0.8"/><line x1="108.5" y1="366.5" x2="108.5" y2="406.4" stroke="#8a8a8a" stroke-width="1.0"/><line x1="94.3" y1="393.1" x2="132.8" y2="393.1" stroke="#8a8a8a" stroke-width="1.0"/><line x1="93.1" y1="370.49" x2="94.3" y2="370.49" stroke="#999" stroke-width="0.5"/><rect x="90" y="369.19" width="3" height="2.2" fill="#bdbdbd"/><line x1="93.1" y1="379.27" x2="94.3" y2="379.27" stroke="#999" stroke-width="0.5"/><rect x="90" y="377.97" width="3" height="2.2" fill="#bdbdbd"/><line x1="93.1" y1="389.64" x2="94.3" y2="389.64" stroke="#999" stroke-width="0.5"/><rect x="90" y="388.34" width="3" height="2.2" fill="#bdbdbd"/><line x1="93.1" y1="397.62" x2="94.3" y2="397.62" stroke="#999" stroke-width="0.5"/><rect x="90" y="396.32" width="3" height="2.2" fill="#bdbdbd"/><line x1="93.1" y1="404.8" x2="94.3" y2="404.8" stroke="#999" stroke-width="0.5"/><rect x="90" y="403.5" width="3" height="2.2" fill="#bdbdbd"/><line x1="96.61" y1="406.4" x2="96.61" y2="407.6" stroke="#999" stroke-width="0.5"/><rect x="95.11" y="409.4" width="3" height="2" fill="#c0c0c0"/><line x1="105.85" y1="406.4" x2="105.85" y2="407.6" stroke="#999" stroke-width="0.5"/><rect x="104.35" y="409.4" width="3" height="2" fill="#c0c0c0"/><line x1="114.32" y1="406.4" x2="114.32" y2="407.6" stroke="#999" stroke-width="0.5"/><rect x="112.82" y="409.4" width="3" height="2" fill="#c0c0c0"/><line x1="123.56" y1="406.4" x2="123.56" y2="407.6" stroke="#999" stroke-width="0.5"/><rect x="122.06" y="409.4" width="3" height="2" fill="#c0c0c0"/><line x1="130.88" y1="406.4" x2="130.88" y2="407.6" stroke="#999" stroke-width="0.5"/><rect x="129.38" y="409.4" width="3" height="2" fill="#c0c0c0"/><rect x="87.1" y="380.46" width="1.5" height="12.77" fill="#cdcdcd"/><rect x="93.5" y="398.02" width="1.6" height="2" fill="#222"/><rect x="105" y="406.2" width="2.2" height="1.4" fill="#222"/><rect x="102" y="412.8" width="23.1" height="1.4" fill="#c8c8c8"/><rect x="96.3" y="369" width="2" height="1.3" fill="#aaa"/><rect x="96.3" y="371" width="4" height="1.4" fill="#aaa"/><rect x="126.8" y="369" width="2" height="1.3" fill="#aaa"/><rect x="126.8" y="371" width="4" height="1.4" fill="#aaa"/><rect x="96.3" y="400.4" width="2" height="1.3" fill="#aaa"/><rect x="96.3" y="402.4" width="4" height="1.4" fill="#aaa"/><rect x="126.8" y="400.4" width="2" height="1.3" fill="#aaa"/><rect x="126.8" y="402.4" width="4" height="1.4" fill="#aaa"/><rect x="142.6" y="366.5" width="38.2" height="39.9" fill="none" stroke="#b0b0b0" stroke-width="0.8"/><line x1="156.7" y1="366.5" x2="156.7" y2="406.4" stroke="#8a8a8a" stroke-width="1.0"/><line x1="142.6" y1="393.1" x2="180.8" y2="393.1" stroke="#8a8a8a" stroke-width="1.0"/><line x1="141.4" y1="370.49" x2="142.6" y2="370.49" stroke="#999" stroke-width="0.5"/><rect x="138.3" y="369.19" width="3" height="2.2" fill="#bdbdbd"/><line x1="141.4" y1="379.27" x2="142.6" y2="379.27" stroke="#999" stroke-width="0.5"/><rect x="138.3" y="377.97" width="3" height="2.2" fill="#bdbdbd"/><line x1="141.4" y1="389.64" x2="142.6" y2="389.64" stroke="#999" stroke-width="0.5"/><rect x="138.3" y="388.34" width="3" height="2.2" fill="#bdbdbd"/><line x1="141.4" y1="397.62" x2="142.6" y2="397.62" stroke="#999" stroke-width="0.5"/><rect x="138.3" y="396.32" width="3" height="2.2" fill="#bdbdbd"/><line x1="141.4" y1="404.8" x2="142.6" y2="404.8" stroke="#999" stroke-width="0.5"/><rect x="138.3" y="403.5" width="3" height="2.2" fill="#bdbdbd"/><line x1="144.89" y1="406.4" x2="144.89" y2="407.6" stroke="#999" stroke-width="0.5"/><rect x="143.39" y="409.4" width="3" height="2" fill="#c0c0c0"/><line x1="154.06" y1="406.4" x2="154.06" y2="407.6" stroke="#999" stroke-width="0.5"/><rect x="152.56" y="409.4" width="3" height="2" fill="#c0c0c0"/><line x1="162.46" y1="406.4" x2="162.46" y2="407.6" stroke="#999" stroke-width="0.5"/><rect x="160.96" y="409.4" width="3" height="2" fill="#c0c0c0"/><line x1="171.63" y1="406.4" x2="171.63" y2="407.6" stroke="#999" stroke-width="0.5"/><rect x="170.13" y="409.4" width="3" height="2" fill="#c0c0c0"/><line x1="178.89" y1="406.4" x2="178.89" y2="407.6" stroke="#999" stroke-width="0.5"/><rect x="177.39" y="409.4" width="3" height="2" fill="#c0c0c0"/><rect x="135.4" y="380.46" width="1.5" height="12.77" fill="#cdcdcd"/><rect x="141.8" y="398.02" width="1.6" height="2" fill="#222"/><rect x="153.2" y="406.2" width="2.2" height="1.4" fill="#222"/><rect x="150.24" y="412.8" width="22.92" height="1.4" fill="#c8c8c8"/><rect x="144.6" y="369" width="2" height="1.3" fill="#aaa"/><rect x="144.6" y="371" width="4" height="1.4" fill="#aaa"/><rect x="174.8" y="369" width="2" height="1.3" fill="#aaa"/><rect x="174.8" y="371" width="4" height="1.4" fill="#aaa"/><rect x="144.6" y="400.4" width="2" height="1.3" fill="#aaa"/><rect x="144.6" y="402.4" width="4" height="1.4" fill="#aaa"/><rect x="174.8" y="400.4" width="2" height="1.3" fill="#aaa"/><rect x="174.8" y="402.4" width="4" height="1.4" fill="#aaa"/><rect x="190.5" y="366.5" width="38.3" height="39.9" fill="none" stroke="#b0b0b0" stroke-width="0.8"/><line x1="204.3" y1="366.5" x2="204.3" y2="406.4" stroke="#8a8a8a" stroke-width="1.0"/><line x1="190.5" y1="393.1" x2="228.8" y2="393.1" stroke="#8a8a8a" stroke-width="1.0"/><line x1="189.3" y1="370.49" x2="190.5" y2="370.49" stroke="#999" stroke-width="0.5"/><rect x="186.2" y="369.19" width="3" height="2.2" fill="#bdbdbd"/><line x1="189.3" y1="379.27" x2="190.5" y2="379.27" stroke="#999" stroke-width="0.5"/><rect x="186.2" y="377.97" width="3" height="2.2" fill="#bdbdbd"/><line x1="189.3" y1="389.64" x2="190.5" y2="389.64" stroke="#999" stroke-width="0.5"/><rect x="186.2" y="388.34" width="3" height="2.2" fill="#bdbdbd"/><line x1="189.3" y1="397.62" x2="190.5" y2="397.62" stroke="#999" stroke-width="0.5"/><rect x="186.2" y="396.32" width="3" height="2.2" fill="#bdbdbd"/><line x1="189.3" y1="404.8" x2="190.5" y2="404.8" stroke="#999" stroke-width="0.5"/><rect x="186.2" y="403.5" width="3" height="2.2" fill="#bdbdbd"/><line x1="192.8" y1="406.4" x2="192.8" y2="407.6" stroke="#999" stroke-width="0.5"/><rect x="191.3" y="409.4" width="3" height="2" fill="#c0c0c0"/><line x1="201.99" y1="406.4" x2="201.99" y2="407.6" stroke="#999" stroke-width="0.5"/><rect x="200.49" y="409.4" width="3" height="2" fill="#c0c0c0"/><line x1="210.42" y1="406.4" x2="210.42" y2="407.6" stroke="#999" stroke-width="0.5"/><rect x="208.92" y="409.4" width="3" height="2" fill="#c0c0c0"/><line x1="219.61" y1="406.4" x2="219.61" y2="407.6" stroke="#999" stroke-width="0.5"/><rect x="218.11" y="409.4" width="3" height="2" fill="#c0c0c0"/><line x1="226.89" y1="406.4" x2="226.89" y2="407.6" stroke="#999" stroke-width="0.5"/><rect x="225.39" y="409.4" width="3" height="2" fill="#c0c0c0"/><rect x="183.3" y="380.46" width="1.5" height="12.77" fill="#cdcdcd"/><rect x="189.7" y="398.02" width="1.6" height="2" fill="#222"/><rect x="200.8" y="406.2" width="2.2" height="1.4" fill="#222"/><rect x="198.16" y="412.8" width="22.98" height="1.4" fill="#c8c8c8"/><rect x="192.5" y="369" width="2" height="1.3" fill="#aaa"/><rect x="192.5" y="371" width="4" height="1.4" fill="#aaa"/><rect x="222.8" y="369" width="2" height="1.3" fill="#aaa"/><rect x="222.8" y="371" width="4" height="1.4" fill="#aaa"/><rect x="192.5" y="400.4" width="2" height="1.3" fill="#aaa"/><rect x="192.5" y="402.4" width="4" height="1.4" fill="#aaa"/><rect x="222.8" y="400.4" width="2" height="1.3" fill="#aaa"/><rect x="222.8" y="402.4" width="4" height="1.4" fill="#aaa"/><ellipse cx="57.5" cy="342.1" rx="1.6" ry="4.5" fill="#ccc" opacity="0.6" filter="url(#bl2)"/><ellipse cx="57.7" cy="346.3" rx="1.4" ry="3" fill="none" stroke="#aaa" stroke-width="0.6"/><ellipse cx="57.5" cy="347.9" rx="2.2" ry="1.5" fill="none" stroke="#333" stroke-width="1.0"/><ellipse cx="56.5" cy="350.1" rx="2.5" ry="1.4" fill="#111" opacity="1.0" filter="url(#bl)"/><ellipse cx="105.5" cy="342.1" rx="1.6" ry="4.5" fill="#ccc" opacity="0.6" filter="url(#bl2)"/><ellipse cx="105.7" cy="346.3" rx="1.4" ry="3" fill="none" stroke="#aaa" stroke-width="0.6"/><ellipse cx="105.5" cy="347.9" rx="2.2" ry="1.5" fill="none" stroke="#333" stroke-width="1.0"/><ellipse cx="104.5" cy="350.1" rx="2.5" ry="1.4" fill="#111" opacity="1.0" filter="url(#bl)"/><ellipse cx="161.7" cy="341.1" rx="7" ry="5" fill="#d0d0d0" opacity="0.7" filter="url(#bl2)"/><ellipse cx="159.7" cy="342.1" rx="6" ry="4" fill="none" stroke="#aaa" stroke-width="0.5" transform="rotate(-25 159.7 342.1)"/><ellipse cx="161.7" cy="341.1" rx="8.5" ry="5.5" fill="none" stroke="#c4c4c4" stroke-width="0.5" transform="rotate(-25 161.7 341.1)"/><ellipse cx="154.5" cy="344.3" rx="1.6" ry="3.2" fill="none" stroke="#555" stroke-width="0.9"/><rect x="151.7" y="348.9" width="4.4" height="2.7" fill="#222" filter="url(#bl)"/><ellipse cx="208.3" cy="341.1" rx="7" ry="5" fill="#d0d0d0" opacity="0.7" filter="url(#bl2)"/><ellipse cx="206.8" cy="342.6" rx="5.5" ry="4" fill="none" stroke="#aaa" stroke-width="0.5" transform="rotate(-30 206.8 342.6)"/><ellipse cx="208.8" cy="341.6" rx="8.5" ry="5.5" fill="none" stroke="#c4c4c4" stroke-width="0.5" transform="rotate(-30 208.8 341.6)"/><ellipse cx="211.3" cy="349" rx="8" ry="1.3" fill="none" stroke="#888" stroke-width="0.6"/><ellipse cx="212.3" cy="348.9" rx="7" ry="1.6" fill="#bbb" opacity="0.6" filter="url(#bl2)"/><ellipse cx="202.8" cy="344.1" rx="1.6" ry="3.2" fill="none" stroke="#555" stroke-width="0.9"/><rect x="199" y="348.7" width="4.8" height="2.8" fill="#222" filter="url(#bl)"/><ellipse cx="57.5" cy="387.1" rx="1.6" ry="4.5" fill="#ccc" opacity="0.6" filter="url(#bl2)"/><ellipse cx="57.7" cy="391.3" rx="1.4" ry="3" fill="none" stroke="#aaa" stroke-width="0.6"/><ellipse cx="57.5" cy="392.9" rx="2.2" ry="1.5" fill="none" stroke="#333" stroke-width="1.0"/><ellipse cx="56.5" cy="395.1" rx="2.5" ry="1.4" fill="#111" opacity="1.0" filter="url(#bl)"/><ellipse cx="112.5" cy="387.1" rx="6" ry="4" fill="#ddd" opacity="0.6" filter="url(#bl2)"/><ellipse cx="110.5" cy="388.1" rx="5" ry="3.5" fill="none" stroke="#bbb" stroke-width="0.5" transform="rotate(-25 110.5 388.1)"/><ellipse cx="105.9" cy="389.3" rx="1.6" ry="3" fill="none" stroke="#666" stroke-width="0.8"/><ellipse cx="105.9" cy="389.3" rx="0.8" ry="1.6" fill="#fff" opacity="0.9" filter="url(#bl)"/><ellipse cx="104.9" cy="394.9" rx="2.8" ry="1.6" fill="#111" opacity="1.0" filter="url(#bl)"/><ellipse cx="161.7" cy="386.1" rx="7" ry="5" fill="#d0d0d0" opacity="0.7" filter="url(#bl2)"/><ellipse cx="159.7" cy="387.1" rx="6" ry="4" fill="none" stroke="#aaa" stroke-width="0.5" transform="rotate(-25 159.7 387.1)"/><ellipse cx="161.7" cy="386.1" rx="8.5" ry="5.5" fill="none" stroke="#c4c4c4" stroke-width="0.5" transform="rotate(-25 161.7 386.1)"/><ellipse cx="154.5" cy="389.3" rx="1.6" ry="3.2" fill="none" stroke="#555" stroke-width="0.9"/><rect x="151.7" y="393.9" width="4.4" height="2.7" fill="#222" filter="url(#bl)"/><ellipse cx="208.3" cy="386.1" rx="7" ry="5" fill="#d0d0d0" opacity="0.7" filter="url(#bl2)"/><ellipse cx="206.8" cy="387.6" rx="5.5" ry="4" fill="none" stroke="#aaa" stroke-width="0.5" transform="rotate(-30 206.8 387.6)"/><ellipse cx="208.8" cy="386.6" rx="8.5" ry="5.5" fill="none" stroke="#c4c4c4" stroke-width="0.5" transform="rotate(-30 208.8 386.6)"/><ellipse cx="211.3" cy="394" rx="8" ry="1.3" fill="none" stroke="#888" stroke-width="0.6"/><ellipse cx="212.3" cy="393.9" rx="7" ry="1.6" fill="#bbb" opacity="0.6" filter="url(#bl2)"/><ellipse cx="202.8" cy="389.1" rx="1.6" ry="3.2" fill="none" stroke="#555" stroke-width="0.9"/><rect x="199" y="393.7" width="4.8" height="2.8" fill="#222" filter="url(#bl)"/></svg></body></html>
